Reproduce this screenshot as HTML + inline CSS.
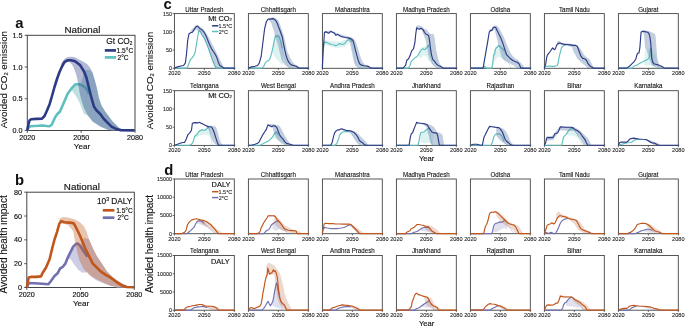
<!DOCTYPE html>
<html><head><meta charset="utf-8"><style>
html,body{margin:0;padding:0;background:#fff;}
svg{display:block;font-family:"Liberation Sans",sans-serif;will-change:transform;}
</style></head><body>
<svg width="685" height="326" viewBox="0 0 685 326">
<rect width="685" height="326" fill="#fff"/>
<rect x="27.30" y="35.30" width="107.70" height="95.20" fill="none" stroke="#444444" stroke-width="1.0"/>
<polygon points="71.30,89.00 75.00,85.00 78.00,84.00 81.00,84.00 83.00,76.00 85.00,70.50 88.00,69.50 90.50,70.50 92.50,72.60 94.50,78.90 96.80,87.70 98.90,97.70 101.40,105.20 105.20,111.50 109.00,116.50 112.70,121.60 116.50,125.30 119.00,127.80 124.00,130.00 124.00,130.30 112.00,130.30 107.70,129.80 100.20,126.60 92.60,121.60 87.60,115.30 83.90,114.00 80.10,104.00 76.00,96.00 72.60,91.40 71.30,90.20" fill="#bfe0e0" fill-opacity="1.0" stroke="none"/>
<polyline points="27.30,130.50 28.50,127.50 30.40,126.30 34.00,126.00 38.00,125.80 42.00,125.50 45.00,125.70 47.00,126.00 49.60,126.30 51.50,125.00 53.00,122.00 55.00,117.50 57.00,114.50 60.00,111.50 63.80,102.70 67.50,93.90 71.30,88.70 75.10,84.60 77.60,84.00 81.30,85.00 85.10,87.30 87.60,90.80 89.00,94.00" fill="none" stroke="#5ec0be" stroke-width="2.6" stroke-linejoin="round" stroke-linecap="butt"/>
<polygon points="61.00,64.00 63.00,60.50 65.00,58.50 68.00,56.90 72.00,56.70 75.00,57.30 78.80,59.50 83.00,61.50 87.00,64.00 90.00,67.50 92.50,72.60 94.50,78.90 96.80,87.70 98.90,97.70 101.40,105.20 105.20,111.50 109.00,116.50 112.70,121.60 116.50,125.30 119.00,127.80 124.00,130.00 128.00,130.30 112.00,130.30 107.70,129.80 100.20,126.60 92.60,121.60 87.60,115.30 83.90,107.70 82.00,102.00 80.50,97.00 79.50,92.00 78.50,86.00 77.50,80.00 76.00,74.00 74.00,68.50 72.00,64.50 70.00,62.50 68.00,61.50 65.00,62.50 62.00,66.00" fill="#2d3a86" fill-opacity="0.36" stroke="none"/>
<polyline points="27.30,130.50 28.30,125.00 29.50,120.50 31.00,119.30 36.00,118.90 42.00,118.60 44.50,116.00 47.00,110.50 49.60,104.20 52.00,96.00 54.50,87.00 57.00,79.00 59.40,72.20 62.00,66.50 64.30,62.40 66.50,60.80 68.60,60.20 71.00,60.30 75.10,61.30 78.00,63.50 80.10,65.10 83.90,71.30 86.40,77.60 88.90,87.70 91.40,97.70 93.90,106.50 96.40,110.30 100.20,114.00 103.90,119.00 107.70,122.80 111.50,126.60 116.50,129.10 120.00,130.10 134.50,130.40" fill="none" stroke="#2d3a86" stroke-width="2.6" stroke-linejoin="round" stroke-linecap="butt"/>
<line x1="24.70" y1="130.50" x2="27.30" y2="130.50" stroke="#444444" stroke-width="0.9"/>
<text x="22.40" y="133.00" font-size="7.2" text-anchor="end" font-weight="normal" fill="#111" stroke="#111" stroke-width="0.15" >0.0</text>
<line x1="24.70" y1="98.77" x2="27.30" y2="98.77" stroke="#444444" stroke-width="0.9"/>
<text x="22.40" y="101.27" font-size="7.2" text-anchor="end" font-weight="normal" fill="#111" stroke="#111" stroke-width="0.15" >0.5</text>
<line x1="24.70" y1="67.03" x2="27.30" y2="67.03" stroke="#444444" stroke-width="0.9"/>
<text x="22.40" y="69.53" font-size="7.2" text-anchor="end" font-weight="normal" fill="#111" stroke="#111" stroke-width="0.15" >1.0</text>
<line x1="24.70" y1="35.30" x2="27.30" y2="35.30" stroke="#444444" stroke-width="0.9"/>
<text x="22.40" y="37.80" font-size="7.2" text-anchor="end" font-weight="normal" fill="#111" stroke="#111" stroke-width="0.15" >1.5</text>
<line x1="27.30" y1="130.50" x2="27.30" y2="132.90" stroke="#444444" stroke-width="0.9"/>
<text x="27.30" y="139.70" font-size="7.2" text-anchor="middle" font-weight="normal" fill="#111" stroke="#111" stroke-width="0.15" >2020</text>
<line x1="81.15" y1="130.50" x2="81.15" y2="132.90" stroke="#444444" stroke-width="0.9"/>
<text x="81.15" y="139.70" font-size="7.2" text-anchor="middle" font-weight="normal" fill="#111" stroke="#111" stroke-width="0.15" >2050</text>
<line x1="135.00" y1="130.50" x2="135.00" y2="132.90" stroke="#444444" stroke-width="0.9"/>
<text x="135.00" y="139.70" font-size="7.2" text-anchor="middle" font-weight="normal" fill="#111" stroke="#111" stroke-width="0.15" >2080</text>
<text x="82.45" y="33.30" font-size="9.8" text-anchor="middle" font-weight="normal" fill="#111" stroke="#111" stroke-width="0.15" >National</text>
<rect x="26.80" y="192.20" width="107.50" height="95.30" fill="none" stroke="#444444" stroke-width="1.0"/>
<polygon points="66.70,259.00 68.00,257.10 70.60,251.90 73.20,246.70 75.80,244.10 77.90,243.60 79.80,245.40 84.00,238.00 88.90,238.90 92.80,248.00 96.70,255.80 101.90,263.60 107.10,271.40 113.60,277.90 121.40,283.10 129.20,287.00 129.20,287.50 117.50,287.50 109.70,285.80 103.20,283.20 96.70,280.60 91.50,276.70 87.60,272.00 86.30,272.50 82.40,272.70 78.50,270.00 74.50,265.00 70.60,259.00 66.70,259.50" fill="#cdcde5" fill-opacity="1.0" stroke="none"/>
<polyline points="26.80,287.50 27.80,285.00 28.70,283.00 34.80,283.30 42.20,283.80 48.40,284.30 50.80,281.30 54.50,276.00 57.60,273.30 60.20,268.30 62.80,266.80 65.40,263.60 68.00,257.10 70.60,251.90 73.20,246.70 75.80,244.10 77.90,243.60 79.80,245.40 82.40,249.30 85.00,253.20 87.60,256.60" fill="none" stroke="#7170b0" stroke-width="2.6" stroke-linejoin="round" stroke-linecap="butt"/>
<polygon points="59.40,218.60 63.10,216.90 68.00,217.50 74.50,219.30 79.70,221.90 83.60,225.80 86.30,231.00 88.90,238.90 92.80,248.00 96.70,255.80 101.90,263.60 107.10,271.40 113.60,277.90 121.40,283.10 129.20,287.00 132.00,287.30 120.00,287.30 111.00,285.70 103.20,282.60 95.40,278.70 88.90,274.80 83.60,268.80 79.70,261.00 77.10,251.90 74.50,238.90 73.20,231.00 68.00,225.00 63.00,223.50 59.40,224.00" fill="#c0561a" fill-opacity="0.35" stroke="none"/>
<polyline points="26.80,287.50 27.80,282.00 28.70,277.60 31.10,276.90 36.10,276.90 41.00,276.40 42.70,272.70 45.90,267.80 49.60,259.20 52.00,249.30 54.50,239.50 57.00,232.10 59.40,223.50 61.40,221.10 64.30,222.30 69.30,222.60 73.00,223.00 74.50,224.50 77.10,229.80 79.70,235.00 82.40,241.50 85.00,248.00 87.60,253.20 90.20,258.40 92.80,263.60 96.70,267.50 100.60,271.40 105.80,274.80 111.00,277.90 116.20,281.80 121.40,285.20 126.60,287.00 134.00,287.30" fill="none" stroke="#c0561a" stroke-width="2.6" stroke-linejoin="round" stroke-linecap="butt"/>
<line x1="24.20" y1="287.50" x2="26.80" y2="287.50" stroke="#444444" stroke-width="0.9"/>
<text x="21.90" y="290.00" font-size="7.2" text-anchor="end" font-weight="normal" fill="#111" stroke="#111" stroke-width="0.15" >0</text>
<line x1="24.20" y1="263.68" x2="26.80" y2="263.68" stroke="#444444" stroke-width="0.9"/>
<text x="21.90" y="266.18" font-size="7.2" text-anchor="end" font-weight="normal" fill="#111" stroke="#111" stroke-width="0.15" >20</text>
<line x1="24.20" y1="239.85" x2="26.80" y2="239.85" stroke="#444444" stroke-width="0.9"/>
<text x="21.90" y="242.35" font-size="7.2" text-anchor="end" font-weight="normal" fill="#111" stroke="#111" stroke-width="0.15" >40</text>
<line x1="24.20" y1="216.02" x2="26.80" y2="216.02" stroke="#444444" stroke-width="0.9"/>
<text x="21.90" y="218.52" font-size="7.2" text-anchor="end" font-weight="normal" fill="#111" stroke="#111" stroke-width="0.15" >60</text>
<line x1="24.20" y1="192.20" x2="26.80" y2="192.20" stroke="#444444" stroke-width="0.9"/>
<text x="21.90" y="194.70" font-size="7.2" text-anchor="end" font-weight="normal" fill="#111" stroke="#111" stroke-width="0.15" >80</text>
<line x1="26.80" y1="287.50" x2="26.80" y2="289.90" stroke="#444444" stroke-width="0.9"/>
<text x="26.80" y="296.70" font-size="7.2" text-anchor="middle" font-weight="normal" fill="#111" stroke="#111" stroke-width="0.15" >2020</text>
<line x1="80.55" y1="287.50" x2="80.55" y2="289.90" stroke="#444444" stroke-width="0.9"/>
<text x="80.55" y="296.70" font-size="7.2" text-anchor="middle" font-weight="normal" fill="#111" stroke="#111" stroke-width="0.15" >2050</text>
<line x1="134.30" y1="287.50" x2="134.30" y2="289.90" stroke="#444444" stroke-width="0.9"/>
<text x="134.30" y="296.70" font-size="7.2" text-anchor="middle" font-weight="normal" fill="#111" stroke="#111" stroke-width="0.15" >2080</text>
<text x="81.85" y="190.20" font-size="9.8" text-anchor="middle" font-weight="normal" fill="#111" stroke="#111" stroke-width="0.15" >National</text>
<text x="132.40" y="44.00" font-size="8.3" text-anchor="end" font-weight="normal" fill="#111" stroke="#111" stroke-width="0.15" >Gt CO<tspan font-size="4.6" dy="0.5">2</tspan></text>
<line x1="104.80" y1="50.40" x2="116.00" y2="50.40" stroke="#2d3a86" stroke-width="2.7"/>
<text x="116.60" y="52.70" font-size="6.6" text-anchor="start" font-weight="normal" fill="#111" stroke="#111" stroke-width="0.15" >1.5°C</text>
<line x1="104.80" y1="57.40" x2="116.00" y2="57.40" stroke="#5ec0be" stroke-width="2.7"/>
<text x="117.50" y="59.70" font-size="6.6" text-anchor="start" font-weight="normal" fill="#111" stroke="#111" stroke-width="0.15" >2°C</text>
<text x="132.40" y="203.60" font-size="8.3" text-anchor="end" font-weight="normal" fill="#111" stroke="#111" stroke-width="0.15" >10<tspan font-size="5.2" dy="-2.8">3</tspan><tspan dy="2.8"> DALY</tspan></text>
<line x1="102.80" y1="210.30" x2="114.40" y2="210.30" stroke="#c0561a" stroke-width="2.7"/>
<text x="116.20" y="212.60" font-size="6.6" text-anchor="start" font-weight="normal" fill="#111" stroke="#111" stroke-width="0.15" >1.5°C</text>
<line x1="102.80" y1="217.70" x2="114.40" y2="217.70" stroke="#7170b0" stroke-width="2.7"/>
<text x="117.60" y="220.00" font-size="6.6" text-anchor="start" font-weight="normal" fill="#111" stroke="#111" stroke-width="0.15" >2°C</text>
<text x="15.20" y="27.90" font-size="14.8" text-anchor="start" font-weight="bold" fill="#111" >a</text>
<text x="14.90" y="184.50" font-size="14.8" text-anchor="start" font-weight="bold" fill="#111" >b</text>
<text x="163.60" y="8.70" font-size="14.8" text-anchor="start" font-weight="bold" fill="#111" >c</text>
<text x="164.20" y="174.70" font-size="14.8" text-anchor="start" font-weight="bold" fill="#111" >d</text>
<text transform="translate(7.20,79.60) rotate(-90)" font-size="9.8" text-anchor="middle" fill="#111" stroke="#111" stroke-width="0.1">Avoided CO<tspan font-size="5.8" dy="1.0">2</tspan><tspan dy="-1.0"> emission</tspan></text>
<text transform="translate(7.20,244.40) rotate(-90)" font-size="10.0" text-anchor="middle" fill="#111" stroke="#111" stroke-width="0.1">Avoided health impact</text>
<text transform="translate(152.90,80.50) rotate(-90)" font-size="9.8" text-anchor="middle" fill="#111" stroke="#111" stroke-width="0.1">Avoided CO<tspan font-size="5.8" dy="1.0">2</tspan><tspan dy="-1.0"> emission</tspan></text>
<text transform="translate(153.00,244.00) rotate(-90)" font-size="10.0" text-anchor="middle" fill="#111" stroke="#111" stroke-width="0.1">Avoided health impact</text>
<text x="82.00" y="148.70" font-size="8.1" text-anchor="middle" font-weight="normal" fill="#111" stroke="#111" stroke-width="0.15" >Year</text>
<text x="81.10" y="305.60" font-size="8.1" text-anchor="middle" font-weight="normal" fill="#111" stroke="#111" stroke-width="0.15" >Year</text>
<text x="426.60" y="160.60" font-size="7.6" text-anchor="middle" font-weight="normal" fill="#111" stroke="#111" stroke-width="0.15" >Year</text>
<text x="426.60" y="325.70" font-size="7.6" text-anchor="middle" font-weight="normal" fill="#111" stroke="#111" stroke-width="0.15" >Year</text>
<rect x="174.40" y="13.60" width="59.90" height="54.70" fill="none" stroke="#444444" stroke-width="0.9"/>
<polyline points="174.35,68.15 184.49,68.15 187.11,68.15 188.86,63.70 190.61,59.33 192.36,57.58 194.10,54.96 195.33,51.46 196.38,44.47 197.60,37.48 198.48,32.23 199.35,30.48 200.22,31.36 201.10,33.10 201.97,34.85 203.72,37.48 205.47,40.97 207.22,45.34 208.97,49.71 210.71,54.96 212.46,60.20 214.21,64.57 215.96,68.15 217.71,68.15 235.19,68.15" fill="none" stroke="#5ec0be" stroke-width="1.15" stroke-linejoin="round" stroke-linecap="butt"/>
<polygon points="190.61,30.48 193.23,27.86 195.85,25.24 198.48,25.59 200.22,26.64 201.97,27.86 204.59,30.48 208.97,37.48 211.59,42.72 215.08,49.71 217.71,54.96 220.33,60.20 222.95,65.45 224.70,68.15 224.70,68.15 217.71,68.15 215.96,68.15 214.21,64.57 212.46,60.20 210.71,54.96 208.97,49.71 207.22,45.34 205.47,40.97 203.72,37.48 201.97,34.85 200.22,32.23 198.48,31.36 195.85,29.61 193.23,32.58 190.61,32.58" fill="#4d6f9f" fill-opacity="0.34" stroke="none"/>
<polyline points="174.35,68.15 177.50,66.85 180.99,65.97 183.62,65.45 185.36,62.83 186.59,53.21 187.64,40.97 188.86,33.98 190.61,32.76 192.36,32.23 194.10,29.61 195.85,26.99 197.08,26.11 198.48,26.99 199.87,28.73 201.62,29.61 203.37,31.36 205.12,33.98 206.34,36.60 208.09,40.97 209.84,45.34 211.59,48.84 213.34,51.46 215.08,54.08 216.83,57.58 218.58,62.83 219.80,65.45 221.20,66.32 223.83,68.15 226.45,68.15 235.19,68.15" fill="none" stroke="#2d3a86" stroke-width="1.15" stroke-linejoin="round" stroke-linecap="butt"/>
<line x1="172.60" y1="68.30" x2="174.40" y2="68.30" stroke="#444444" stroke-width="0.8"/>
<text x="172.00" y="70.20" font-size="5.4" text-anchor="end" font-weight="normal" fill="#111" stroke="#111" stroke-width="0.07" >0</text>
<line x1="172.60" y1="50.07" x2="174.40" y2="50.07" stroke="#444444" stroke-width="0.8"/>
<text x="172.00" y="51.97" font-size="5.4" text-anchor="end" font-weight="normal" fill="#111" stroke="#111" stroke-width="0.07" >50</text>
<line x1="172.60" y1="31.83" x2="174.40" y2="31.83" stroke="#444444" stroke-width="0.8"/>
<text x="172.00" y="33.73" font-size="5.4" text-anchor="end" font-weight="normal" fill="#111" stroke="#111" stroke-width="0.07" >100</text>
<line x1="172.60" y1="13.60" x2="174.40" y2="13.60" stroke="#444444" stroke-width="0.8"/>
<text x="172.00" y="15.50" font-size="5.4" text-anchor="end" font-weight="normal" fill="#111" stroke="#111" stroke-width="0.07" >150</text>
<line x1="174.40" y1="68.30" x2="174.40" y2="70.10" stroke="#444444" stroke-width="0.8"/>
<text x="174.40" y="75.10" font-size="5.6" text-anchor="middle" font-weight="normal" fill="#111" stroke="#111" stroke-width="0.07" >2020</text>
<line x1="204.35" y1="68.30" x2="204.35" y2="70.10" stroke="#444444" stroke-width="0.8"/>
<text x="204.35" y="75.10" font-size="5.6" text-anchor="middle" font-weight="normal" fill="#111" stroke="#111" stroke-width="0.07" >2050</text>
<line x1="234.30" y1="68.30" x2="234.30" y2="70.10" stroke="#444444" stroke-width="0.8"/>
<text x="234.30" y="75.10" font-size="5.6" text-anchor="middle" font-weight="normal" fill="#111" stroke="#111" stroke-width="0.07" >2080</text>
<text transform="translate(204.35,11.60) scale(1,1.14)" font-size="6.2" text-anchor="middle" fill="#111" stroke="#111" stroke-width="0.1">Uttar Pradesh</text>
<rect x="248.40" y="13.60" width="59.90" height="54.70" fill="none" stroke="#444444" stroke-width="0.9"/>
<polygon points="272.48,46.22 274.22,37.48 275.97,33.98 278.59,34.85 281.22,40.97 282.97,47.97 282.97,65.45 282.09,64.57 279.47,61.95 275.97,58.45 272.48,53.21" fill="#5ec0be" fill-opacity="0.2" stroke="none"/>
<polyline points="248.35,68.15 261.99,68.15 263.73,66.32 265.48,62.83 267.23,61.08 268.98,60.20 270.38,57.58 271.60,53.21 272.83,47.97 274.22,40.97 275.45,35.73 276.85,36.60 278.07,35.73 279.47,37.48 280.87,41.85 282.09,47.97" fill="none" stroke="#5ec0be" stroke-width="1.15" stroke-linejoin="round" stroke-linecap="butt"/>
<polyline points="282.09,47.97 283.84,54.96 285.59,60.20 287.34,64.57 289.96,68.15 293.45,68.15 309.19,68.15" fill="none" stroke="#5ec0be" stroke-width="1.0" stroke-linejoin="round" stroke-linecap="butt" stroke-opacity="0.3"/>
<polygon points="268.98,18.24 272.48,17.37 275.97,18.24 278.59,20.87 280.34,25.24 282.09,30.48 283.84,35.73 285.59,43.59 287.34,51.46 289.96,57.58 292.58,61.95 295.20,64.57 298.70,66.32 301.32,68.15 301.32,68.15 291.71,68.15 289.08,68.15 285.59,65.45 282.97,62.83 281.22,58.45 279.47,51.46 277.72,44.47 275.97,39.22 274.22,32.23 272.48,26.99 271.60,23.49 268.98,19.99" fill="#4d6f9f" fill-opacity="0.34" stroke="none"/>
<polyline points="248.35,68.15 251.50,66.85 254.99,66.32 257.62,65.45 259.36,62.83 261.11,56.71 262.86,42.72 264.61,28.73 266.36,21.74 268.10,19.12 270.73,19.12 272.48,18.59 274.22,19.12 275.97,20.87 277.37,23.49 278.59,26.99 279.99,30.48 281.22,33.98 282.44,37.48 283.49,43.59 284.71,49.71 285.94,54.96 287.34,59.33 288.56,61.95 289.96,63.70 291.71,65.10 294.33,65.80 296.08,66.32 298.70,68.15 300.45,68.15 309.19,68.15" fill="none" stroke="#2d3a86" stroke-width="1.15" stroke-linejoin="round" stroke-linecap="butt"/>
<line x1="248.40" y1="68.30" x2="248.40" y2="70.10" stroke="#444444" stroke-width="0.8"/>
<text x="248.40" y="75.10" font-size="5.6" text-anchor="middle" font-weight="normal" fill="#111" stroke="#111" stroke-width="0.07" >2020</text>
<line x1="278.35" y1="68.30" x2="278.35" y2="70.10" stroke="#444444" stroke-width="0.8"/>
<text x="278.35" y="75.10" font-size="5.6" text-anchor="middle" font-weight="normal" fill="#111" stroke="#111" stroke-width="0.07" >2050</text>
<line x1="308.30" y1="68.30" x2="308.30" y2="70.10" stroke="#444444" stroke-width="0.8"/>
<text x="308.30" y="75.10" font-size="5.6" text-anchor="middle" font-weight="normal" fill="#111" stroke="#111" stroke-width="0.07" >2080</text>
<text transform="translate(278.35,11.60) scale(1,1.14)" font-size="6.2" text-anchor="middle" fill="#111" stroke="#111" stroke-width="0.1">Chhattisgarh</text>
<rect x="322.40" y="13.60" width="59.90" height="54.70" fill="none" stroke="#444444" stroke-width="0.9"/>
<polygon points="324.45,40.10 332.49,40.97 339.48,41.85 346.48,39.22 349.97,38.35 352.59,39.22 352.59,43.59 349.97,41.85 344.73,47.09 337.73,47.97 332.49,47.09 324.45,44.47" fill="#5ec0be" fill-opacity="0.2" stroke="none"/>
<polyline points="323.40,47.97 324.45,41.85 326.37,42.37 328.99,43.59 331.62,44.47 334.24,44.99 335.99,45.87 337.73,44.82 339.48,43.59 341.23,44.12 342.98,44.47 344.73,43.59 346.48,40.97 348.22,40.10 349.97,38.87 350.85,39.22 351.72,41.85" fill="none" stroke="#5ec0be" stroke-width="1.15" stroke-linejoin="round" stroke-linecap="butt"/>
<polyline points="351.72,41.85 352.59,46.22 353.82,53.21 355.22,60.20 356.62,65.45 358.71,68.15 383.19,68.15" fill="none" stroke="#5ec0be" stroke-width="1.0" stroke-linejoin="round" stroke-linecap="butt" stroke-opacity="0.3"/>
<polygon points="324.45,31.36 330.74,30.48 339.48,33.98 348.22,36.60 351.72,37.48 354.34,39.22 356.09,42.72 357.84,47.97 359.59,54.08 361.34,59.33 363.08,62.83 365.71,65.10 369.20,66.32 372.70,68.15 372.70,68.15 358.71,68.15 356.09,66.32 354.34,63.70 353.12,58.45 351.72,51.46 349.97,43.59 348.22,39.22 339.48,36.08 330.74,32.23 324.45,32.58" fill="#4d6f9f" fill-opacity="0.34" stroke="none"/>
<polyline points="322.35,68.15 323.40,47.97 324.45,32.23 325.85,31.88 327.24,32.58 328.99,33.10 330.74,31.36 332.49,32.23 334.24,33.10 335.99,35.38 337.73,34.33 339.48,35.73 341.23,36.60 342.98,36.95 345.60,37.48 348.22,37.83 349.97,38.35 351.72,39.22 353.12,40.97 354.34,45.34 355.57,50.59 356.97,55.83 358.19,60.20 359.59,63.70 361.34,65.10 363.96,65.80 367.45,66.15 369.20,66.85 370.95,68.15 383.19,68.15" fill="none" stroke="#2d3a86" stroke-width="1.15" stroke-linejoin="round" stroke-linecap="butt"/>
<line x1="322.40" y1="68.30" x2="322.40" y2="70.10" stroke="#444444" stroke-width="0.8"/>
<text x="322.40" y="75.10" font-size="5.6" text-anchor="middle" font-weight="normal" fill="#111" stroke="#111" stroke-width="0.07" >2020</text>
<line x1="352.35" y1="68.30" x2="352.35" y2="70.10" stroke="#444444" stroke-width="0.8"/>
<text x="352.35" y="75.10" font-size="5.6" text-anchor="middle" font-weight="normal" fill="#111" stroke="#111" stroke-width="0.07" >2050</text>
<line x1="382.30" y1="68.30" x2="382.30" y2="70.10" stroke="#444444" stroke-width="0.8"/>
<text x="382.30" y="75.10" font-size="5.6" text-anchor="middle" font-weight="normal" fill="#111" stroke="#111" stroke-width="0.07" >2080</text>
<text transform="translate(352.35,11.60) scale(1,1.14)" font-size="6.2" text-anchor="middle" fill="#111" stroke="#111" stroke-width="0.1">Maharashtra</text>
<rect x="396.40" y="13.60" width="59.90" height="54.70" fill="none" stroke="#444444" stroke-width="0.9"/>
<polygon points="418.73,51.46 422.22,47.09 425.72,46.22 428.34,44.47 430.09,47.97 430.09,62.83 428.34,60.20 426.59,56.71 423.97,54.96 420.48,58.45 418.73,56.71" fill="#5ec0be" fill-opacity="0.2" stroke="none"/>
<polyline points="396.35,68.15 408.24,68.15 409.99,65.45 411.38,61.08 413.48,59.33 415.23,57.58 416.98,56.71 418.73,54.08 420.13,51.46 421.35,49.71 423.10,48.84 424.85,49.71 426.59,47.97 428.34,45.34 429.22,46.22" fill="none" stroke="#5ec0be" stroke-width="1.15" stroke-linejoin="round" stroke-linecap="butt"/>
<polyline points="429.22,46.22 430.09,53.21 430.97,58.45 432.71,63.70 434.46,66.32 437.08,68.15 457.19,68.15" fill="none" stroke="#5ec0be" stroke-width="1.0" stroke-linejoin="round" stroke-linecap="butt" stroke-opacity="0.3"/>
<polygon points="416.10,26.11 418.73,25.24 421.35,26.11 423.97,28.73 426.59,29.61 429.22,33.10 430.97,33.98 433.59,33.98 434.81,39.22 436.21,49.71 437.96,58.45 439.71,63.70 441.45,66.32 444.08,68.15 444.08,68.15 437.96,68.15 434.46,66.32 431.84,63.70 430.09,60.20 428.34,54.96 427.12,47.97 425.72,40.97 423.97,35.73 421.35,29.61 418.73,29.61 416.10,28.73" fill="#4d6f9f" fill-opacity="0.34" stroke="none"/>
<polyline points="396.35,68.15 402.99,68.15 405.62,65.45 406.84,60.20 408.59,58.80 409.99,55.83 411.73,50.59 413.48,48.84 414.88,42.72 415.76,33.98 416.63,27.86 417.85,28.73 419.60,29.08 421.35,28.38 423.10,29.61 424.50,32.23 425.72,33.98 427.47,34.85 428.69,35.73 429.57,40.97 430.44,47.97 431.49,54.96 432.71,59.33 434.46,61.08 436.21,63.70 437.96,65.45 440.58,66.32 443.20,68.15 446.70,68.15 457.19,68.15" fill="none" stroke="#2d3a86" stroke-width="1.15" stroke-linejoin="round" stroke-linecap="butt"/>
<line x1="396.40" y1="68.30" x2="396.40" y2="70.10" stroke="#444444" stroke-width="0.8"/>
<text x="396.40" y="75.10" font-size="5.6" text-anchor="middle" font-weight="normal" fill="#111" stroke="#111" stroke-width="0.07" >2020</text>
<line x1="426.35" y1="68.30" x2="426.35" y2="70.10" stroke="#444444" stroke-width="0.8"/>
<text x="426.35" y="75.10" font-size="5.6" text-anchor="middle" font-weight="normal" fill="#111" stroke="#111" stroke-width="0.07" >2050</text>
<line x1="456.30" y1="68.30" x2="456.30" y2="70.10" stroke="#444444" stroke-width="0.8"/>
<text x="456.30" y="75.10" font-size="5.6" text-anchor="middle" font-weight="normal" fill="#111" stroke="#111" stroke-width="0.07" >2080</text>
<text transform="translate(426.35,11.60) scale(1,1.14)" font-size="6.2" text-anchor="middle" fill="#111" stroke="#111" stroke-width="0.1">Madhya Pradesh</text>
<rect x="470.40" y="13.60" width="59.90" height="54.70" fill="none" stroke="#444444" stroke-width="0.9"/>
<polygon points="492.73,53.21 495.35,47.09 498.85,44.47 502.34,47.09 504.97,51.46 505.84,61.95 504.09,60.20 501.47,58.45 498.85,56.71 496.22,58.45 493.60,63.70" fill="#5ec0be" fill-opacity="0.2" stroke="none"/>
<polyline points="470.35,68.15 483.11,68.15 484.86,66.32 486.61,68.15 489.23,68.15 491.85,68.15 492.73,63.70 493.60,54.96 494.48,54.96 495.35,49.71 496.22,47.97 497.62,47.09 498.50,45.34 499.72,46.22 501.12,47.97 502.87,48.84 504.09,50.59" fill="none" stroke="#5ec0be" stroke-width="1.15" stroke-linejoin="round" stroke-linecap="butt"/>
<polyline points="504.09,50.59 505.84,54.96 507.59,60.20 509.34,64.57 511.08,68.15 512.83,68.15 531.19,68.15" fill="none" stroke="#5ec0be" stroke-width="1.0" stroke-linejoin="round" stroke-linecap="butt" stroke-opacity="0.3"/>
<polygon points="489.23,29.61 491.85,28.73 493.60,26.11 496.22,25.24 498.85,27.86 501.47,32.23 504.09,37.48 506.71,44.47 509.34,50.59 511.96,54.96 514.58,58.10 518.08,60.20 520.70,62.83 523.32,65.45 524.20,68.15 524.20,68.15 520.70,68.15 517.20,68.15 513.71,65.45 510.21,63.70 506.71,61.95 504.09,60.20 501.47,56.71 499.72,49.71 497.97,42.72 496.22,35.73 494.48,29.61 491.85,31.36 489.23,32.23" fill="#4d6f9f" fill-opacity="0.34" stroke="none"/>
<polyline points="470.35,68.15 476.12,68.15 480.49,68.15 483.11,68.15 483.99,62.83 485.38,54.96 486.61,47.97 487.83,40.97 489.23,32.23 490.63,30.48 491.85,30.48 493.08,27.86 494.48,26.99 495.87,27.86 497.10,30.48 498.85,33.98 500.59,37.48 502.34,41.85 504.09,47.09 505.49,51.46 506.71,54.96 508.46,56.71 510.56,58.80 512.83,60.55 515.10,61.60 517.20,62.30 518.95,63.70 519.83,65.45 520.70,68.15 531.19,68.15" fill="none" stroke="#2d3a86" stroke-width="1.15" stroke-linejoin="round" stroke-linecap="butt"/>
<line x1="470.40" y1="68.30" x2="470.40" y2="70.10" stroke="#444444" stroke-width="0.8"/>
<text x="470.40" y="75.10" font-size="5.6" text-anchor="middle" font-weight="normal" fill="#111" stroke="#111" stroke-width="0.07" >2020</text>
<line x1="500.35" y1="68.30" x2="500.35" y2="70.10" stroke="#444444" stroke-width="0.8"/>
<text x="500.35" y="75.10" font-size="5.6" text-anchor="middle" font-weight="normal" fill="#111" stroke="#111" stroke-width="0.07" >2050</text>
<line x1="530.30" y1="68.30" x2="530.30" y2="70.10" stroke="#444444" stroke-width="0.8"/>
<text x="530.30" y="75.10" font-size="5.6" text-anchor="middle" font-weight="normal" fill="#111" stroke="#111" stroke-width="0.07" >2080</text>
<text transform="translate(500.35,11.60) scale(1,1.14)" font-size="6.2" text-anchor="middle" fill="#111" stroke="#111" stroke-width="0.1">Odisha</text>
<rect x="544.40" y="13.60" width="59.90" height="54.70" fill="none" stroke="#444444" stroke-width="0.9"/>
<polyline points="544.35,68.15 545.75,65.97 547.50,66.32 549.24,65.97 551.87,66.32 554.49,66.32 557.11,65.45 557.99,63.70 558.86,58.45 560.08,53.21 561.48,47.97 562.88,46.22 564.63,45.34 565.85,44.82 566.73,44.47" fill="none" stroke="#5ec0be" stroke-width="1.15" stroke-linejoin="round" stroke-linecap="butt"/>
<polyline points="566.73,44.47 570.22,44.99 572.85,45.52" fill="none" stroke="#5ec0be" stroke-width="1.0" stroke-linejoin="round" stroke-linecap="butt" stroke-opacity="0.3"/>
<polygon points="557.11,41.85 558.86,40.62 561.48,42.72 571.97,44.12 576.34,45.34 578.97,47.09 581.59,50.59 584.21,54.96 586.83,57.58 589.45,59.33 591.20,62.83 592.95,66.32 595.57,68.15 595.57,68.15 591.20,68.15 587.71,68.15 585.08,65.45 581.59,62.83 578.97,60.20 577.22,58.45 575.47,54.96 573.72,52.34 571.97,47.09 561.48,44.47 557.11,44.47" fill="#4d6f9f" fill-opacity="0.34" stroke="none"/>
<polyline points="544.35,68.15 545.75,63.70 546.62,57.58 547.50,54.96 548.90,53.21 550.12,51.46 551.34,49.71 552.74,47.97 554.14,49.71 555.36,48.84 556.59,45.34 557.99,43.59 559.73,43.07 561.48,43.59 563.23,44.12 564.98,44.47 567.60,44.47 570.22,44.82 572.85,45.34 575.47,45.34 577.22,46.22 578.62,49.71 579.84,53.21 581.24,56.71 582.46,58.10 584.21,58.80 585.61,59.33 586.83,61.08 588.06,63.70 589.45,65.45 591.20,66.85 593.83,68.15 605.19,68.15" fill="none" stroke="#2d3a86" stroke-width="1.15" stroke-linejoin="round" stroke-linecap="butt"/>
<line x1="544.40" y1="68.30" x2="544.40" y2="70.10" stroke="#444444" stroke-width="0.8"/>
<text x="544.40" y="75.10" font-size="5.6" text-anchor="middle" font-weight="normal" fill="#111" stroke="#111" stroke-width="0.07" >2020</text>
<line x1="574.35" y1="68.30" x2="574.35" y2="70.10" stroke="#444444" stroke-width="0.8"/>
<text x="574.35" y="75.10" font-size="5.6" text-anchor="middle" font-weight="normal" fill="#111" stroke="#111" stroke-width="0.07" >2050</text>
<line x1="604.30" y1="68.30" x2="604.30" y2="70.10" stroke="#444444" stroke-width="0.8"/>
<text x="604.30" y="75.10" font-size="5.6" text-anchor="middle" font-weight="normal" fill="#111" stroke="#111" stroke-width="0.07" >2080</text>
<text transform="translate(574.35,11.60) scale(1,1.14)" font-size="6.2" text-anchor="middle" fill="#111" stroke="#111" stroke-width="0.1">Tamil Nadu</text>
<rect x="618.40" y="13.60" width="59.90" height="54.70" fill="none" stroke="#444444" stroke-width="0.9"/>
<polygon points="644.22,60.20 645.10,50.59 647.72,48.84 650.34,47.97 652.97,50.59 655.59,54.96 657.34,61.95 657.34,65.45 654.71,66.32 651.22,65.45 647.72,65.45 644.22,65.45" fill="#5ec0be" fill-opacity="0.2" stroke="none"/>
<polyline points="618.35,68.15 631.99,68.15 633.73,66.32 635.48,65.45 637.23,65.10 638.98,63.70 640.73,62.83 642.48,61.95 644.22,61.08 645.97,60.20 647.72,59.33 649.12,57.58 649.99,54.96 650.34,50.59 650.87,47.97" fill="none" stroke="#5ec0be" stroke-width="1.15" stroke-linejoin="round" stroke-linecap="butt"/>
<polyline points="650.87,47.97 651.57,53.21 652.27,60.20 652.97,64.57 654.71,68.15 657.34,68.15 679.19,68.15" fill="none" stroke="#5ec0be" stroke-width="1.0" stroke-linejoin="round" stroke-linecap="butt" stroke-opacity="0.3"/>
<polygon points="641.60,30.83 645.97,30.48 649.47,31.36 652.97,33.10 655.06,33.98 655.76,37.48 656.46,47.97 657.34,58.45 658.56,62.83 660.83,65.45 664.33,68.15 668.70,68.15 668.70,68.15 663.45,68.15 658.21,68.15 653.84,66.32 651.22,64.57 649.82,60.20 648.59,56.71 646.85,50.59 645.10,47.97 644.57,40.97 643.87,33.98 641.60,31.88" fill="#4d6f9f" fill-opacity="0.34" stroke="none"/>
<polyline points="618.35,68.15 623.24,68.15 626.74,68.15 629.36,66.32 631.11,64.57 632.86,62.83 634.61,61.08 636.01,58.45 636.88,54.96 637.58,53.21 638.98,52.86 639.85,47.97 640.38,40.97 641.08,32.23 642.13,31.36 644.22,31.36 645.97,31.88 647.72,32.23 649.12,33.98 649.99,37.48 650.69,42.72 651.22,49.71 651.74,58.45 652.62,61.95 653.84,63.70 655.59,64.22 657.34,64.57 659.08,65.45 661.71,66.32 664.33,68.15 666.95,68.15 670.45,68.15 679.19,68.15" fill="none" stroke="#2d3a86" stroke-width="1.15" stroke-linejoin="round" stroke-linecap="butt"/>
<line x1="618.40" y1="68.30" x2="618.40" y2="70.10" stroke="#444444" stroke-width="0.8"/>
<text x="618.40" y="75.10" font-size="5.6" text-anchor="middle" font-weight="normal" fill="#111" stroke="#111" stroke-width="0.07" >2020</text>
<line x1="648.35" y1="68.30" x2="648.35" y2="70.10" stroke="#444444" stroke-width="0.8"/>
<text x="648.35" y="75.10" font-size="5.6" text-anchor="middle" font-weight="normal" fill="#111" stroke="#111" stroke-width="0.07" >2050</text>
<line x1="678.30" y1="68.30" x2="678.30" y2="70.10" stroke="#444444" stroke-width="0.8"/>
<text x="678.30" y="75.10" font-size="5.6" text-anchor="middle" font-weight="normal" fill="#111" stroke="#111" stroke-width="0.07" >2080</text>
<text transform="translate(648.35,11.60) scale(1,1.14)" font-size="6.2" text-anchor="middle" fill="#111" stroke="#111" stroke-width="0.1">Gujarat</text>
<rect x="174.40" y="90.70" width="59.90" height="54.70" fill="none" stroke="#444444" stroke-width="0.9"/>
<polygon points="194.98,134.58 200.22,129.34 205.47,128.81 208.97,125.84 210.71,130.21 210.71,138.95 208.97,135.45 205.47,134.58 200.22,135.45 194.98,138.08" fill="#5ec0be" fill-opacity="0.2" stroke="none"/>
<polyline points="174.35,145.25 187.99,145.25 189.73,145.25 191.48,144.20 193.23,141.57 194.63,136.33 195.85,135.45 197.08,134.58 198.48,131.96 200.22,130.56 201.97,129.86 203.72,130.21 205.12,130.21 206.34,129.34 207.22,128.46 208.09,126.71 208.97,127.59" fill="none" stroke="#5ec0be" stroke-width="1.15" stroke-linejoin="round" stroke-linecap="butt"/>
<polyline points="208.97,127.59 210.71,135.45 211.59,142.45 212.46,145.25 235.19,145.25" fill="none" stroke="#5ec0be" stroke-width="1.0" stroke-linejoin="round" stroke-linecap="butt" stroke-opacity="0.3"/>
<polygon points="206.34,124.97 208.97,125.84 212.46,125.84 215.96,126.71 217.71,131.96 219.45,138.95 221.20,143.32 222.95,145.25 222.95,145.25 216.83,145.25 214.21,143.32 212.46,140.70 210.71,135.45 208.97,130.21 206.34,126.71" fill="#4d6f9f" fill-opacity="0.34" stroke="none"/>
<polyline points="174.35,145.25 177.50,144.20 180.12,143.32 182.74,142.45 184.49,142.45 186.24,138.95 187.99,134.58 189.73,132.83 191.48,130.21 192.36,123.22 193.58,122.87 195.85,122.69 198.48,122.87 199.35,122.34 201.10,123.22 202.85,124.09 204.59,124.97 206.34,125.84 208.09,126.71 209.84,126.71 211.59,127.06 213.34,130.21 214.56,133.71 215.96,138.08 217.36,142.45 218.58,145.25 221.20,145.25 235.19,145.25" fill="none" stroke="#2d3a86" stroke-width="1.15" stroke-linejoin="round" stroke-linecap="butt"/>
<line x1="172.60" y1="145.40" x2="174.40" y2="145.40" stroke="#444444" stroke-width="0.8"/>
<text x="172.00" y="147.30" font-size="5.4" text-anchor="end" font-weight="normal" fill="#111" stroke="#111" stroke-width="0.07" >0</text>
<line x1="172.60" y1="127.17" x2="174.40" y2="127.17" stroke="#444444" stroke-width="0.8"/>
<text x="172.00" y="129.07" font-size="5.4" text-anchor="end" font-weight="normal" fill="#111" stroke="#111" stroke-width="0.07" >50</text>
<line x1="172.60" y1="108.93" x2="174.40" y2="108.93" stroke="#444444" stroke-width="0.8"/>
<text x="172.00" y="110.83" font-size="5.4" text-anchor="end" font-weight="normal" fill="#111" stroke="#111" stroke-width="0.07" >100</text>
<line x1="172.60" y1="90.70" x2="174.40" y2="90.70" stroke="#444444" stroke-width="0.8"/>
<text x="172.00" y="92.60" font-size="5.4" text-anchor="end" font-weight="normal" fill="#111" stroke="#111" stroke-width="0.07" >150</text>
<line x1="174.40" y1="145.40" x2="174.40" y2="147.20" stroke="#444444" stroke-width="0.8"/>
<text x="174.40" y="152.20" font-size="5.6" text-anchor="middle" font-weight="normal" fill="#111" stroke="#111" stroke-width="0.07" >2020</text>
<line x1="204.35" y1="145.40" x2="204.35" y2="147.20" stroke="#444444" stroke-width="0.8"/>
<text x="204.35" y="152.20" font-size="5.6" text-anchor="middle" font-weight="normal" fill="#111" stroke="#111" stroke-width="0.07" >2050</text>
<line x1="234.30" y1="145.40" x2="234.30" y2="147.20" stroke="#444444" stroke-width="0.8"/>
<text x="234.30" y="152.20" font-size="5.6" text-anchor="middle" font-weight="normal" fill="#111" stroke="#111" stroke-width="0.07" >2080</text>
<text transform="translate(204.35,87.80) scale(1,1.14)" font-size="6.2" text-anchor="middle" fill="#111" stroke="#111" stroke-width="0.1">Telangana</text>
<rect x="248.40" y="90.70" width="59.90" height="54.70" fill="none" stroke="#444444" stroke-width="0.9"/>
<polygon points="273.35,133.71 275.10,131.08 276.85,131.61 279.47,134.58 282.09,138.08 282.97,142.45 279.47,140.70 275.97,138.95 273.35,138.08" fill="#5ec0be" fill-opacity="0.2" stroke="none"/>
<polyline points="248.35,145.25 260.24,145.25 261.99,144.20 263.73,143.32 265.48,142.45 267.23,141.57 268.98,140.70 270.73,138.95 272.48,137.20 273.87,134.58 275.10,132.83 276.32,131.96 277.72,134.58" fill="none" stroke="#5ec0be" stroke-width="1.15" stroke-linejoin="round" stroke-linecap="butt"/>
<polyline points="277.72,134.58 279.47,137.20 281.22,138.95 282.97,140.70 284.71,143.32 286.46,145.25 309.19,145.25" fill="none" stroke="#5ec0be" stroke-width="1.0" stroke-linejoin="round" stroke-linecap="butt" stroke-opacity="0.3"/>
<polygon points="267.23,124.09 272.48,124.09 275.97,124.97 279.47,125.84 282.09,130.21 284.71,135.45 287.34,139.83 289.96,143.32 292.58,145.25 292.58,145.25 286.46,145.25 282.97,144.20 280.34,142.45 277.72,139.83 275.97,137.20 274.22,133.71 272.48,127.59 267.23,125.84" fill="#4d6f9f" fill-opacity="0.34" stroke="none"/>
<polyline points="248.35,145.25 251.50,145.25 254.99,144.20 257.62,143.32 259.36,141.57 261.11,138.08 262.86,134.58 264.61,131.96 266.36,129.34 267.23,126.71 268.10,124.97 269.85,125.84 271.60,126.71 273.35,125.84 275.10,125.84 276.85,127.59 278.07,131.08 279.47,134.58 281.22,137.20 282.97,138.95 284.71,141.57 286.46,143.32 289.96,144.20 293.45,145.25 296.95,145.25 309.19,145.25" fill="none" stroke="#2d3a86" stroke-width="1.15" stroke-linejoin="round" stroke-linecap="butt"/>
<line x1="248.40" y1="145.40" x2="248.40" y2="147.20" stroke="#444444" stroke-width="0.8"/>
<text x="248.40" y="152.20" font-size="5.6" text-anchor="middle" font-weight="normal" fill="#111" stroke="#111" stroke-width="0.07" >2020</text>
<line x1="278.35" y1="145.40" x2="278.35" y2="147.20" stroke="#444444" stroke-width="0.8"/>
<text x="278.35" y="152.20" font-size="5.6" text-anchor="middle" font-weight="normal" fill="#111" stroke="#111" stroke-width="0.07" >2050</text>
<line x1="308.30" y1="145.40" x2="308.30" y2="147.20" stroke="#444444" stroke-width="0.8"/>
<text x="308.30" y="152.20" font-size="5.6" text-anchor="middle" font-weight="normal" fill="#111" stroke="#111" stroke-width="0.07" >2080</text>
<text transform="translate(278.35,87.80) scale(1,1.14)" font-size="6.2" text-anchor="middle" fill="#111" stroke="#111" stroke-width="0.1">West Bengal</text>
<rect x="322.40" y="90.70" width="59.90" height="54.70" fill="none" stroke="#444444" stroke-width="0.9"/>
<polyline points="322.35,145.25 332.49,145.25 335.11,145.25 336.86,143.32 338.61,138.95 339.48,135.45 340.88,133.36 342.63,131.96 344.73,131.61 346.48,131.61 348.22,131.61 349.97,131.96" fill="none" stroke="#5ec0be" stroke-width="1.15" stroke-linejoin="round" stroke-linecap="butt"/>
<polyline points="349.97,131.96 351.72,133.71 353.47,136.33 355.22,138.95 356.97,141.57 358.71,144.20 360.46,145.25 383.19,145.25" fill="none" stroke="#5ec0be" stroke-width="1.0" stroke-linejoin="round" stroke-linecap="butt" stroke-opacity="0.3"/>
<polygon points="349.97,130.56 353.47,131.08 356.09,131.96 358.71,134.58 361.34,137.20 363.96,139.83 366.58,142.45 368.33,145.25 368.33,145.25 361.34,145.25 358.71,144.20 356.09,141.57 354.34,138.95 352.59,136.33 350.85,133.71 349.97,131.96" fill="#4d6f9f" fill-opacity="0.34" stroke="none"/>
<polyline points="322.35,145.25 327.24,145.25 330.74,145.25 332.14,142.45 333.36,137.20 334.59,132.83 335.99,131.08 337.73,129.86 339.48,129.86 341.23,128.81 342.98,129.34 344.73,129.86 346.48,130.56 349.10,130.56 350.85,131.08 352.59,131.61 354.34,132.83 356.09,134.58 357.84,137.20 359.06,139.83 360.46,141.57 362.21,142.45 363.96,144.20 365.71,145.25 383.19,145.25" fill="none" stroke="#2d3a86" stroke-width="1.15" stroke-linejoin="round" stroke-linecap="butt"/>
<line x1="322.40" y1="145.40" x2="322.40" y2="147.20" stroke="#444444" stroke-width="0.8"/>
<text x="322.40" y="152.20" font-size="5.6" text-anchor="middle" font-weight="normal" fill="#111" stroke="#111" stroke-width="0.07" >2020</text>
<line x1="352.35" y1="145.40" x2="352.35" y2="147.20" stroke="#444444" stroke-width="0.8"/>
<text x="352.35" y="152.20" font-size="5.6" text-anchor="middle" font-weight="normal" fill="#111" stroke="#111" stroke-width="0.07" >2050</text>
<line x1="382.30" y1="145.40" x2="382.30" y2="147.20" stroke="#444444" stroke-width="0.8"/>
<text x="382.30" y="152.20" font-size="5.6" text-anchor="middle" font-weight="normal" fill="#111" stroke="#111" stroke-width="0.07" >2080</text>
<text transform="translate(352.35,87.80) scale(1,1.14)" font-size="6.2" text-anchor="middle" fill="#111" stroke="#111" stroke-width="0.1">Andhra Pradesh</text>
<rect x="396.40" y="90.70" width="59.90" height="54.70" fill="none" stroke="#444444" stroke-width="0.9"/>
<polygon points="420.48,132.83 423.97,131.08 428.34,127.59 430.97,130.21 433.59,135.45 432.71,144.20 429.22,142.45 424.85,143.32 420.48,142.45" fill="#5ec0be" fill-opacity="0.2" stroke="none"/>
<polyline points="396.35,145.25 409.99,145.25 412.61,145.25 415.23,145.25 417.85,145.25 418.73,142.45 419.25,139.83 419.95,135.45 420.83,132.83 422.22,132.31 423.97,131.96 425.72,130.21 427.12,129.34 428.34,128.46 429.22,129.34" fill="none" stroke="#5ec0be" stroke-width="1.15" stroke-linejoin="round" stroke-linecap="butt"/>
<polyline points="429.22,129.34 430.09,135.45 430.97,140.70 431.84,144.20 433.59,145.25 457.19,145.25" fill="none" stroke="#5ec0be" stroke-width="1.0" stroke-linejoin="round" stroke-linecap="butt" stroke-opacity="0.3"/>
<polygon points="423.97,124.09 427.47,124.09 430.97,124.97 433.59,126.71 435.34,129.34 437.08,131.96 439.71,132.83 442.33,134.58 443.20,138.95 444.08,145.25 444.08,145.25 431.84,145.25 430.09,142.45 429.22,137.20 427.47,131.96 426.59,127.59 423.97,124.97" fill="#4d6f9f" fill-opacity="0.34" stroke="none"/>
<polyline points="396.35,145.25 406.49,145.25 409.11,145.25 409.64,141.57 410.34,137.20 411.38,133.71 412.61,132.83 413.48,130.21 415.23,125.84 416.63,122.34 417.85,122.87 420.48,123.22 423.10,123.57 425.72,124.09 427.47,124.97 428.34,126.71 430.09,129.34 431.84,131.96 433.59,132.83 435.86,132.83 437.08,133.71 437.96,137.20 438.83,142.45 439.36,145.25 457.19,145.25" fill="none" stroke="#2d3a86" stroke-width="1.15" stroke-linejoin="round" stroke-linecap="butt"/>
<line x1="396.40" y1="145.40" x2="396.40" y2="147.20" stroke="#444444" stroke-width="0.8"/>
<text x="396.40" y="152.20" font-size="5.6" text-anchor="middle" font-weight="normal" fill="#111" stroke="#111" stroke-width="0.07" >2020</text>
<line x1="426.35" y1="145.40" x2="426.35" y2="147.20" stroke="#444444" stroke-width="0.8"/>
<text x="426.35" y="152.20" font-size="5.6" text-anchor="middle" font-weight="normal" fill="#111" stroke="#111" stroke-width="0.07" >2050</text>
<line x1="456.30" y1="145.40" x2="456.30" y2="147.20" stroke="#444444" stroke-width="0.8"/>
<text x="456.30" y="152.20" font-size="5.6" text-anchor="middle" font-weight="normal" fill="#111" stroke="#111" stroke-width="0.07" >2080</text>
<text transform="translate(426.35,87.80) scale(1,1.14)" font-size="6.2" text-anchor="middle" fill="#111" stroke="#111" stroke-width="0.1">Jharkhand</text>
<rect x="470.40" y="90.70" width="59.90" height="54.70" fill="none" stroke="#444444" stroke-width="0.9"/>
<polyline points="470.35,145.25 483.99,145.25 487.48,145.25 490.98,145.25 492.73,141.57 493.60,137.20 494.83,135.10 496.22,134.06 497.97,133.71 499.72,134.06 501.47,135.45 502.87,138.08 504.09,141.57" fill="none" stroke="#5ec0be" stroke-width="1.15" stroke-linejoin="round" stroke-linecap="butt"/>
<polyline points="504.09,141.57 505.84,144.20 508.46,145.25 531.19,145.25" fill="none" stroke="#5ec0be" stroke-width="1.0" stroke-linejoin="round" stroke-linecap="butt" stroke-opacity="0.3"/>
<polygon points="496.22,128.46 500.59,127.59 504.09,129.34 506.71,132.83 508.46,136.33 510.21,140.70 511.96,143.32 514.58,145.25 514.58,145.25 510.21,145.25 506.71,145.25 504.09,143.32 501.47,141.57 498.85,138.95 496.22,135.45" fill="#4d6f9f" fill-opacity="0.34" stroke="none"/>
<polyline points="470.35,145.25 473.50,144.20 476.99,144.20 480.49,145.25 482.24,145.25 483.11,141.57 483.99,137.20 485.38,134.58 486.61,131.96 488.36,128.46 489.58,126.36 491.85,126.71 494.48,127.06 497.10,127.59 498.85,127.59 500.59,129.34 502.34,131.96 503.74,135.45 504.97,138.95 506.36,141.05 508.11,142.45 509.86,144.20 511.96,145.25 531.19,145.25" fill="none" stroke="#2d3a86" stroke-width="1.15" stroke-linejoin="round" stroke-linecap="butt"/>
<line x1="470.40" y1="145.40" x2="470.40" y2="147.20" stroke="#444444" stroke-width="0.8"/>
<text x="470.40" y="152.20" font-size="5.6" text-anchor="middle" font-weight="normal" fill="#111" stroke="#111" stroke-width="0.07" >2020</text>
<line x1="500.35" y1="145.40" x2="500.35" y2="147.20" stroke="#444444" stroke-width="0.8"/>
<text x="500.35" y="152.20" font-size="5.6" text-anchor="middle" font-weight="normal" fill="#111" stroke="#111" stroke-width="0.07" >2050</text>
<line x1="530.30" y1="145.40" x2="530.30" y2="147.20" stroke="#444444" stroke-width="0.8"/>
<text x="530.30" y="152.20" font-size="5.6" text-anchor="middle" font-weight="normal" fill="#111" stroke="#111" stroke-width="0.07" >2080</text>
<text transform="translate(500.35,87.80) scale(1,1.14)" font-size="6.2" text-anchor="middle" fill="#111" stroke="#111" stroke-width="0.1">Rajasthan</text>
<rect x="544.40" y="90.70" width="59.90" height="54.70" fill="none" stroke="#444444" stroke-width="0.9"/>
<polygon points="566.73,131.08 570.22,128.46 573.72,129.34 577.22,132.83 578.97,135.45 578.97,139.83 577.22,137.20 571.97,135.45 566.73,135.45" fill="#5ec0be" fill-opacity="0.2" stroke="none"/>
<polyline points="544.35,145.25 554.49,145.25 561.48,145.25 562.36,142.45 563.23,138.08 564.10,136.33 565.85,134.58 567.08,132.83 568.13,131.08 569.35,129.86 570.22,128.81 571.97,128.46 573.72,128.81" fill="none" stroke="#5ec0be" stroke-width="1.15" stroke-linejoin="round" stroke-linecap="butt"/>
<polyline points="573.72,128.81 575.47,131.08 577.22,134.58 578.97,138.08 580.71,141.57 582.46,144.20 584.21,145.25" fill="none" stroke="#5ec0be" stroke-width="1.0" stroke-linejoin="round" stroke-linecap="butt" stroke-opacity="0.3"/>
<polygon points="546.62,136.33 552.74,135.80 559.73,126.36 573.72,127.06 578.09,129.34 581.59,131.96 585.08,135.45 587.71,138.08 589.80,141.57 591.55,145.25 591.55,145.25 585.08,145.25 583.34,144.20 581.59,141.57 578.97,137.20 576.34,133.71 573.72,131.08 559.73,130.21 553.62,139.83 546.62,140.70" fill="#4d6f9f" fill-opacity="0.34" stroke="none"/>
<polyline points="544.35,145.25 545.75,142.45 546.62,138.08 547.85,137.55 550.12,137.55 552.74,137.55 553.62,136.33 554.84,133.71 556.59,133.36 557.64,132.83 558.86,130.56 560.08,127.59 560.61,126.71 563.23,127.06 565.85,127.24 568.48,127.24 571.10,127.24 572.85,127.59 574.07,128.81 575.47,129.86 577.22,130.56 578.97,131.96 580.71,133.71 582.11,135.80 583.86,138.08 585.08,139.83 586.31,142.45 587.71,145.25 605.19,145.25" fill="none" stroke="#2d3a86" stroke-width="1.15" stroke-linejoin="round" stroke-linecap="butt"/>
<line x1="544.40" y1="145.40" x2="544.40" y2="147.20" stroke="#444444" stroke-width="0.8"/>
<text x="544.40" y="152.20" font-size="5.6" text-anchor="middle" font-weight="normal" fill="#111" stroke="#111" stroke-width="0.07" >2020</text>
<line x1="574.35" y1="145.40" x2="574.35" y2="147.20" stroke="#444444" stroke-width="0.8"/>
<text x="574.35" y="152.20" font-size="5.6" text-anchor="middle" font-weight="normal" fill="#111" stroke="#111" stroke-width="0.07" >2050</text>
<line x1="604.30" y1="145.40" x2="604.30" y2="147.20" stroke="#444444" stroke-width="0.8"/>
<text x="604.30" y="152.20" font-size="5.6" text-anchor="middle" font-weight="normal" fill="#111" stroke="#111" stroke-width="0.07" >2080</text>
<text transform="translate(574.35,87.80) scale(1,1.14)" font-size="6.2" text-anchor="middle" fill="#111" stroke="#111" stroke-width="0.1">Bihar</text>
<rect x="618.40" y="90.70" width="59.90" height="54.70" fill="none" stroke="#444444" stroke-width="0.9"/>
<polyline points="618.35,145.25 621.50,144.20 624.99,143.32 627.62,142.80 630.24,142.45 631.99,142.10 633.38,140.70 634.61,139.83 637.23,139.48 640.73,139.48" fill="none" stroke="#5ec0be" stroke-width="1.15" stroke-linejoin="round" stroke-linecap="butt"/>
<polyline points="640.73,139.48 644.22,139.83 647.72,141.05 650.34,142.45 652.97,143.85 655.59,145.25" fill="none" stroke="#5ec0be" stroke-width="1.0" stroke-linejoin="round" stroke-linecap="butt" stroke-opacity="0.3"/>
<polygon points="645.97,138.95 651.22,140.70 654.71,142.10 658.21,143.32 660.83,145.25 660.83,145.25 656.46,145.25 652.97,144.20 647.72,141.57 645.97,139.83" fill="#4d6f9f" fill-opacity="0.34" stroke="none"/>
<polyline points="618.35,145.25 619.75,142.45 621.50,142.10 624.12,142.10 626.74,142.10 628.14,141.05 629.36,139.30 631.11,138.60 633.73,138.08 636.36,138.60 638.98,138.95 642.48,139.30 645.97,139.48 648.59,140.70 650.34,142.10 652.09,142.80 654.71,143.32 656.46,144.20 658.21,145.25 679.19,145.25" fill="none" stroke="#2d3a86" stroke-width="1.15" stroke-linejoin="round" stroke-linecap="butt"/>
<line x1="618.40" y1="145.40" x2="618.40" y2="147.20" stroke="#444444" stroke-width="0.8"/>
<text x="618.40" y="152.20" font-size="5.6" text-anchor="middle" font-weight="normal" fill="#111" stroke="#111" stroke-width="0.07" >2020</text>
<line x1="648.35" y1="145.40" x2="648.35" y2="147.20" stroke="#444444" stroke-width="0.8"/>
<text x="648.35" y="152.20" font-size="5.6" text-anchor="middle" font-weight="normal" fill="#111" stroke="#111" stroke-width="0.07" >2050</text>
<line x1="678.30" y1="145.40" x2="678.30" y2="147.20" stroke="#444444" stroke-width="0.8"/>
<text x="678.30" y="152.20" font-size="5.6" text-anchor="middle" font-weight="normal" fill="#111" stroke="#111" stroke-width="0.07" >2080</text>
<text transform="translate(648.35,87.80) scale(1,1.14)" font-size="6.2" text-anchor="middle" fill="#111" stroke="#111" stroke-width="0.1">Karnataka</text>
<rect x="174.40" y="179.00" width="59.90" height="54.70" fill="none" stroke="#444444" stroke-width="0.9"/>
<polygon points="196.73,221.03 200.22,220.16 203.72,221.91 206.34,224.00 206.34,227.15 203.72,225.75 200.22,224.53 196.73,223.65" fill="#7170b0" fill-opacity="0.22" stroke="none"/>
<polyline points="174.35,233.55 184.49,233.55 187.11,233.55 188.86,232.05 190.61,230.65 192.36,228.90 194.10,227.15 195.33,224.53 196.73,221.91 198.13,221.03 199.87,220.68 201.62,221.03 202.85,221.91 204.07,223.30" fill="none" stroke="#7170b0" stroke-width="1.15" stroke-linejoin="round" stroke-linecap="butt"/>
<polyline points="204.07,223.30 205.47,224.53 208.09,227.15 210.71,229.77 213.34,232.40 215.96,233.55" fill="none" stroke="#7170b0" stroke-width="1.0" stroke-linejoin="round" stroke-linecap="butt" stroke-opacity="0.3"/>
<polygon points="198.48,219.28 201.97,219.81 206.34,221.03 208.97,222.78 211.59,224.53 214.21,226.28 216.83,228.90 219.45,230.65 222.08,233.55 222.08,233.55 217.71,233.55 215.96,233.55 213.34,231.52 210.71,229.77 208.09,228.03 205.47,226.28 202.85,224.53 200.22,222.78 198.48,221.03" fill="#b86a4a" fill-opacity="0.26" stroke="none"/>
<polyline points="174.35,233.55 176.62,233.55 179.24,233.55 181.87,233.55 184.49,232.40 185.89,230.65 186.59,228.03 187.64,224.53 189.38,221.91 191.48,220.16 194.10,219.28 196.73,218.76 198.48,219.28 200.22,219.81 201.97,220.16 204.07,220.68 206.34,221.56 208.09,222.78 209.84,224.00 211.24,225.05 212.81,227.15 214.56,228.90 215.96,230.65 217.36,232.40 218.58,233.55 235.19,233.55" fill="none" stroke="#c0561a" stroke-width="1.15" stroke-linejoin="round" stroke-linecap="butt"/>
<line x1="172.60" y1="233.70" x2="174.40" y2="233.70" stroke="#444444" stroke-width="0.8"/>
<text x="172.00" y="235.60" font-size="5.4" text-anchor="end" font-weight="normal" fill="#111" stroke="#111" stroke-width="0.07" >0</text>
<line x1="172.60" y1="215.47" x2="174.40" y2="215.47" stroke="#444444" stroke-width="0.8"/>
<text x="172.00" y="217.37" font-size="5.4" text-anchor="end" font-weight="normal" fill="#111" stroke="#111" stroke-width="0.07" >5000</text>
<line x1="172.60" y1="197.23" x2="174.40" y2="197.23" stroke="#444444" stroke-width="0.8"/>
<text x="172.00" y="199.13" font-size="5.4" text-anchor="end" font-weight="normal" fill="#111" stroke="#111" stroke-width="0.07" >10000</text>
<line x1="172.60" y1="179.00" x2="174.40" y2="179.00" stroke="#444444" stroke-width="0.8"/>
<text x="172.00" y="180.90" font-size="5.4" text-anchor="end" font-weight="normal" fill="#111" stroke="#111" stroke-width="0.07" >15000</text>
<line x1="174.40" y1="233.70" x2="174.40" y2="235.50" stroke="#444444" stroke-width="0.8"/>
<text x="174.40" y="240.50" font-size="5.6" text-anchor="middle" font-weight="normal" fill="#111" stroke="#111" stroke-width="0.07" >2020</text>
<line x1="204.35" y1="233.70" x2="204.35" y2="235.50" stroke="#444444" stroke-width="0.8"/>
<text x="204.35" y="240.50" font-size="5.6" text-anchor="middle" font-weight="normal" fill="#111" stroke="#111" stroke-width="0.07" >2050</text>
<line x1="234.30" y1="233.70" x2="234.30" y2="235.50" stroke="#444444" stroke-width="0.8"/>
<text x="234.30" y="240.50" font-size="5.6" text-anchor="middle" font-weight="normal" fill="#111" stroke="#111" stroke-width="0.07" >2080</text>
<text transform="translate(204.35,177.25) scale(1,1.14)" font-size="6.2" text-anchor="middle" fill="#111" stroke="#111" stroke-width="0.1">Uttar Pradesh</text>
<rect x="248.40" y="179.00" width="59.90" height="54.70" fill="none" stroke="#444444" stroke-width="0.9"/>
<polygon points="272.48,224.00 275.97,221.56 277.72,221.03 281.22,224.00 284.71,228.03 286.46,230.65 286.46,231.52 282.97,230.65 279.47,228.90 275.97,230.65 272.48,228.90" fill="#7170b0" fill-opacity="0.22" stroke="none"/>
<polyline points="248.35,233.55 261.99,233.55 263.73,233.55 265.48,231.52 267.23,230.30 268.63,229.77 269.85,228.03 271.08,225.40 272.48,224.00 274.22,222.78 275.97,221.56 277.20,221.03 278.59,221.91" fill="none" stroke="#7170b0" stroke-width="1.15" stroke-linejoin="round" stroke-linecap="butt"/>
<polyline points="278.59,221.91 280.34,223.30 282.09,225.40 283.84,228.03 285.59,230.65 287.34,233.55 289.08,233.55" fill="none" stroke="#7170b0" stroke-width="1.0" stroke-linejoin="round" stroke-linecap="butt" stroke-opacity="0.3"/>
<polygon points="268.10,214.91 274.22,214.91 276.85,216.66 279.47,219.28 282.97,223.65 286.46,226.28 289.96,228.03 293.45,229.77 297.83,230.65 301.32,232.40 302.20,233.55 302.20,233.55 293.45,233.55 288.21,232.40 284.71,231.52 281.22,229.77 277.72,227.15 274.22,223.65 274.22,217.01 268.10,216.66" fill="#b86a4a" fill-opacity="0.26" stroke="none"/>
<polyline points="248.35,233.55 251.50,233.55 254.12,233.55 257.62,233.55 259.36,232.40 260.24,230.65 261.11,228.03 262.34,225.40 263.73,222.78 265.48,220.16 267.23,217.54 268.10,215.79 269.85,215.79 272.48,215.79 274.22,215.79 275.62,217.01 276.85,219.28 278.59,221.03 280.34,222.78 282.09,225.40 283.84,228.03 285.59,229.25 288.21,230.30 290.83,230.65 293.45,230.65 296.08,231.00 296.95,233.55 309.19,233.55" fill="none" stroke="#c0561a" stroke-width="1.15" stroke-linejoin="round" stroke-linecap="butt"/>
<line x1="248.40" y1="233.70" x2="248.40" y2="235.50" stroke="#444444" stroke-width="0.8"/>
<text x="248.40" y="240.50" font-size="5.6" text-anchor="middle" font-weight="normal" fill="#111" stroke="#111" stroke-width="0.07" >2020</text>
<line x1="278.35" y1="233.70" x2="278.35" y2="235.50" stroke="#444444" stroke-width="0.8"/>
<text x="278.35" y="240.50" font-size="5.6" text-anchor="middle" font-weight="normal" fill="#111" stroke="#111" stroke-width="0.07" >2050</text>
<line x1="308.30" y1="233.70" x2="308.30" y2="235.50" stroke="#444444" stroke-width="0.8"/>
<text x="308.30" y="240.50" font-size="5.6" text-anchor="middle" font-weight="normal" fill="#111" stroke="#111" stroke-width="0.07" >2080</text>
<text transform="translate(278.35,177.25) scale(1,1.14)" font-size="6.2" text-anchor="middle" fill="#111" stroke="#111" stroke-width="0.1">Chhattisgarh</text>
<rect x="322.40" y="179.00" width="59.90" height="54.70" fill="none" stroke="#444444" stroke-width="0.9"/>
<polyline points="323.40,228.90 324.62,227.50 327.24,228.03 330.74,228.55 334.24,228.55 337.73,228.55 341.23,228.03 343.85,227.50 345.60,226.80 347.35,225.75 349.10,225.05 350.32,225.05" fill="none" stroke="#7170b0" stroke-width="1.15" stroke-linejoin="round" stroke-linecap="butt"/>
<polyline points="350.32,225.05 352.07,226.80 353.82,228.90 356.09,231.00 358.71,233.55" fill="none" stroke="#7170b0" stroke-width="1.0" stroke-linejoin="round" stroke-linecap="butt" stroke-opacity="0.3"/>
<polygon points="349.97,224.00 353.47,225.05 356.97,227.50 360.46,230.30 363.08,232.40 364.83,233.55 364.83,233.55 359.59,233.55 357.84,233.55 355.22,230.65 352.59,228.03 349.97,225.05" fill="#b86a4a" fill-opacity="0.26" stroke="none"/>
<polyline points="322.35,233.55 323.40,228.90 324.10,224.00 325.50,223.30 328.99,223.65 332.49,223.65 335.99,224.00 339.48,224.00 342.98,224.18 346.48,224.18 349.10,224.18 350.85,224.53 352.59,226.28 354.34,228.03 356.09,229.77 357.84,231.52 359.59,233.55 361.34,233.55 363.96,233.55 383.19,233.55" fill="none" stroke="#c0561a" stroke-width="1.15" stroke-linejoin="round" stroke-linecap="butt"/>
<line x1="322.40" y1="233.70" x2="322.40" y2="235.50" stroke="#444444" stroke-width="0.8"/>
<text x="322.40" y="240.50" font-size="5.6" text-anchor="middle" font-weight="normal" fill="#111" stroke="#111" stroke-width="0.07" >2020</text>
<line x1="352.35" y1="233.70" x2="352.35" y2="235.50" stroke="#444444" stroke-width="0.8"/>
<text x="352.35" y="240.50" font-size="5.6" text-anchor="middle" font-weight="normal" fill="#111" stroke="#111" stroke-width="0.07" >2050</text>
<line x1="382.30" y1="233.70" x2="382.30" y2="235.50" stroke="#444444" stroke-width="0.8"/>
<text x="382.30" y="240.50" font-size="5.6" text-anchor="middle" font-weight="normal" fill="#111" stroke="#111" stroke-width="0.07" >2080</text>
<text transform="translate(352.35,177.25) scale(1,1.14)" font-size="6.2" text-anchor="middle" fill="#111" stroke="#111" stroke-width="0.1">Maharashtra</text>
<rect x="396.40" y="179.00" width="59.90" height="54.70" fill="none" stroke="#444444" stroke-width="0.9"/>
<polygon points="420.48,228.90 425.72,227.15 429.22,228.03 431.84,230.65 430.97,232.40 425.72,231.52 420.48,230.65" fill="#7170b0" fill-opacity="0.22" stroke="none"/>
<polyline points="396.35,233.55 408.24,233.55 409.99,233.55 411.73,233.55 413.48,232.40 415.23,232.05 416.98,231.52 418.38,230.65 419.60,229.77 420.83,228.90 422.22,228.03 423.97,227.50 425.72,227.50 427.47,227.50 428.87,228.03" fill="none" stroke="#7170b0" stroke-width="1.15" stroke-linejoin="round" stroke-linecap="butt"/>
<polyline points="428.87,228.03 430.09,229.77 431.84,231.52 433.59,233.55" fill="none" stroke="#7170b0" stroke-width="1.0" stroke-linejoin="round" stroke-linecap="butt" stroke-opacity="0.3"/>
<polygon points="423.97,225.05 427.47,225.40 430.97,225.75 433.59,227.15 436.21,228.90 438.83,231.52 440.58,233.55 440.58,233.55 436.21,233.55 432.71,233.55 429.22,231.52 425.72,229.77 423.97,226.28" fill="#b86a4a" fill-opacity="0.26" stroke="none"/>
<polyline points="396.35,233.55 402.99,233.55 405.62,233.55 406.84,232.05 408.24,231.52 409.99,230.65 410.86,228.90 412.61,228.03 414.36,227.15 416.10,225.40 416.98,224.53 418.73,224.53 421.35,225.05 423.62,225.40 424.85,226.28 426.59,226.28 428.34,226.80 429.57,228.03 430.97,229.77 431.84,231.00 433.59,232.05 436.21,233.55 439.71,233.55 443.20,233.55 457.19,233.55" fill="none" stroke="#c0561a" stroke-width="1.15" stroke-linejoin="round" stroke-linecap="butt"/>
<line x1="396.40" y1="233.70" x2="396.40" y2="235.50" stroke="#444444" stroke-width="0.8"/>
<text x="396.40" y="240.50" font-size="5.6" text-anchor="middle" font-weight="normal" fill="#111" stroke="#111" stroke-width="0.07" >2020</text>
<line x1="426.35" y1="233.70" x2="426.35" y2="235.50" stroke="#444444" stroke-width="0.8"/>
<text x="426.35" y="240.50" font-size="5.6" text-anchor="middle" font-weight="normal" fill="#111" stroke="#111" stroke-width="0.07" >2050</text>
<line x1="456.30" y1="233.70" x2="456.30" y2="235.50" stroke="#444444" stroke-width="0.8"/>
<text x="456.30" y="240.50" font-size="5.6" text-anchor="middle" font-weight="normal" fill="#111" stroke="#111" stroke-width="0.07" >2080</text>
<text transform="translate(426.35,177.25) scale(1,1.14)" font-size="6.2" text-anchor="middle" fill="#111" stroke="#111" stroke-width="0.1">Madhya Pradesh</text>
<rect x="470.40" y="179.00" width="59.90" height="54.70" fill="none" stroke="#444444" stroke-width="0.9"/>
<polygon points="493.60,228.90 496.22,223.30 499.72,221.56 504.09,220.16 506.71,222.78 507.59,229.77 504.97,228.03 501.47,228.90 497.97,231.52 493.60,232.40" fill="#7170b0" fill-opacity="0.22" stroke="none"/>
<polyline points="470.35,233.55 484.86,233.55 487.48,233.55 490.10,233.55 491.85,233.55 492.73,230.65 493.60,226.28 494.83,224.00 496.22,223.30 497.97,222.78 499.72,221.91 501.47,222.26 503.22,221.56 504.62,220.51" fill="none" stroke="#7170b0" stroke-width="1.15" stroke-linejoin="round" stroke-linecap="butt"/>
<polyline points="504.62,220.51 506.71,222.78 508.81,226.28 511.08,229.77 512.83,232.40 514.58,233.55" fill="none" stroke="#7170b0" stroke-width="1.0" stroke-linejoin="round" stroke-linecap="butt" stroke-opacity="0.3"/>
<polygon points="490.98,211.42 495.35,210.54 498.85,212.29 502.34,214.91 505.84,218.41 509.34,221.91 512.83,223.65 515.45,224.53 518.08,225.40 520.70,228.90 522.45,232.40 523.32,233.55 523.32,233.55 517.20,233.55 516.33,233.55 513.71,230.65 510.21,228.03 506.71,226.28 503.22,223.65 499.72,220.16 496.22,215.79 496.22,213.17 490.98,212.82" fill="#b86a4a" fill-opacity="0.26" stroke="none"/>
<polyline points="470.35,233.55 476.99,233.55 480.49,233.55 483.64,233.55 484.34,230.65 485.38,226.28 486.61,224.53 487.83,221.03 489.23,214.91 490.10,212.82 491.85,212.29 493.60,212.29 495.35,211.77 497.10,212.82 498.85,214.04 500.59,215.79 502.34,217.54 504.09,219.28 505.84,221.03 507.59,222.78 509.86,224.00 511.96,224.53 513.71,225.05 515.10,226.28 516.33,228.03 517.55,230.65 518.95,233.55 531.19,233.55" fill="none" stroke="#c0561a" stroke-width="1.15" stroke-linejoin="round" stroke-linecap="butt"/>
<line x1="470.40" y1="233.70" x2="470.40" y2="235.50" stroke="#444444" stroke-width="0.8"/>
<text x="470.40" y="240.50" font-size="5.6" text-anchor="middle" font-weight="normal" fill="#111" stroke="#111" stroke-width="0.07" >2020</text>
<line x1="500.35" y1="233.70" x2="500.35" y2="235.50" stroke="#444444" stroke-width="0.8"/>
<text x="500.35" y="240.50" font-size="5.6" text-anchor="middle" font-weight="normal" fill="#111" stroke="#111" stroke-width="0.07" >2050</text>
<line x1="530.30" y1="233.70" x2="530.30" y2="235.50" stroke="#444444" stroke-width="0.8"/>
<text x="530.30" y="240.50" font-size="5.6" text-anchor="middle" font-weight="normal" fill="#111" stroke="#111" stroke-width="0.07" >2080</text>
<text transform="translate(500.35,177.25) scale(1,1.14)" font-size="6.2" text-anchor="middle" fill="#111" stroke="#111" stroke-width="0.1">Odisha</text>
<rect x="544.40" y="179.00" width="59.90" height="54.70" fill="none" stroke="#444444" stroke-width="0.9"/>
<polyline points="544.35,233.55 545.75,232.40 548.37,233.55 550.99,232.40 553.62,233.55 555.36,233.55 557.11,230.65 558.34,228.03 559.73,224.53 561.13,221.91 562.88,220.16 564.63,219.28 566.38,218.76 567.60,218.41" fill="none" stroke="#7170b0" stroke-width="1.15" stroke-linejoin="round" stroke-linecap="butt"/>
<polyline points="567.60,218.41 570.22,219.28 572.85,220.16" fill="none" stroke="#7170b0" stroke-width="1.0" stroke-linejoin="round" stroke-linecap="butt" stroke-opacity="0.3"/>
<polygon points="556.24,213.17 558.86,211.42 561.48,214.04 568.48,216.66 574.59,218.76 578.09,220.16 580.71,222.78 582.46,225.40 585.08,228.90 588.58,230.65 592.08,232.40 595.57,233.55 595.57,233.55 587.71,233.55 584.21,233.55 580.71,231.52 578.09,229.77 576.34,227.15 574.59,224.53 571.97,221.91 568.48,219.28 559.73,217.54 556.24,219.28" fill="#b86a4a" fill-opacity="0.26" stroke="none"/>
<polyline points="544.35,233.55 545.75,229.77 547.15,225.40 548.37,224.53 550.12,224.00 551.87,222.78 553.62,224.00 554.84,223.30 556.24,220.16 557.64,217.54 559.38,215.79 560.61,215.79 562.36,216.31 564.10,216.66 565.85,217.01 567.60,218.06 569.35,218.76 571.97,219.28 574.59,219.81 576.34,220.51 577.22,221.91 578.62,224.53 579.84,227.15 581.06,228.90 582.81,229.77 584.56,230.65 586.83,231.52 589.45,232.40 591.20,233.55 594.70,233.55 605.19,233.55" fill="none" stroke="#c0561a" stroke-width="1.15" stroke-linejoin="round" stroke-linecap="butt"/>
<line x1="544.40" y1="233.70" x2="544.40" y2="235.50" stroke="#444444" stroke-width="0.8"/>
<text x="544.40" y="240.50" font-size="5.6" text-anchor="middle" font-weight="normal" fill="#111" stroke="#111" stroke-width="0.07" >2020</text>
<line x1="574.35" y1="233.70" x2="574.35" y2="235.50" stroke="#444444" stroke-width="0.8"/>
<text x="574.35" y="240.50" font-size="5.6" text-anchor="middle" font-weight="normal" fill="#111" stroke="#111" stroke-width="0.07" >2050</text>
<line x1="604.30" y1="233.70" x2="604.30" y2="235.50" stroke="#444444" stroke-width="0.8"/>
<text x="604.30" y="240.50" font-size="5.6" text-anchor="middle" font-weight="normal" fill="#111" stroke="#111" stroke-width="0.07" >2080</text>
<text transform="translate(574.35,177.25) scale(1,1.14)" font-size="6.2" text-anchor="middle" fill="#111" stroke="#111" stroke-width="0.1">Tamil Nadu</text>
<rect x="618.40" y="179.00" width="59.90" height="54.70" fill="none" stroke="#444444" stroke-width="0.9"/>
<polygon points="644.22,229.77 647.72,228.90 651.22,229.25 653.84,230.65 652.97,233.55 648.59,232.40 644.22,231.52" fill="#7170b0" fill-opacity="0.22" stroke="none"/>
<polyline points="618.35,233.55 630.24,233.55 632.86,233.55 635.48,233.55 638.10,232.40 639.85,231.52 641.60,230.65 643.35,230.30 645.10,229.77 646.85,229.25 648.59,229.25 650.34,229.77 652.09,230.30" fill="none" stroke="#7170b0" stroke-width="1.15" stroke-linejoin="round" stroke-linecap="butt"/>
<polyline points="652.09,230.30 653.84,231.52 655.59,233.55 657.34,233.55" fill="none" stroke="#7170b0" stroke-width="1.0" stroke-linejoin="round" stroke-linecap="butt" stroke-opacity="0.3"/>
<polygon points="645.97,223.30 649.47,224.00 652.97,226.28 655.59,228.03 658.21,229.77 660.83,231.52 664.33,233.55 668.70,233.55 668.70,233.55 658.21,233.55 654.71,232.40 651.22,230.65 647.72,228.03 645.97,224.53" fill="#b86a4a" fill-opacity="0.26" stroke="none"/>
<polyline points="618.35,233.55 624.99,233.55 627.62,233.55 630.24,232.40 632.86,230.65 634.61,228.90 636.36,226.28 637.23,224.53 638.98,224.00 641.60,223.30 644.22,223.30 645.97,223.65 647.72,224.53 649.47,225.75 651.22,227.50 652.97,229.25 654.71,230.65 656.46,231.52 659.08,232.05 661.71,233.55 665.20,233.55 668.70,233.55 679.19,233.55" fill="none" stroke="#c0561a" stroke-width="1.15" stroke-linejoin="round" stroke-linecap="butt"/>
<line x1="618.40" y1="233.70" x2="618.40" y2="235.50" stroke="#444444" stroke-width="0.8"/>
<text x="618.40" y="240.50" font-size="5.6" text-anchor="middle" font-weight="normal" fill="#111" stroke="#111" stroke-width="0.07" >2020</text>
<line x1="648.35" y1="233.70" x2="648.35" y2="235.50" stroke="#444444" stroke-width="0.8"/>
<text x="648.35" y="240.50" font-size="5.6" text-anchor="middle" font-weight="normal" fill="#111" stroke="#111" stroke-width="0.07" >2050</text>
<line x1="678.30" y1="233.70" x2="678.30" y2="235.50" stroke="#444444" stroke-width="0.8"/>
<text x="678.30" y="240.50" font-size="5.6" text-anchor="middle" font-weight="normal" fill="#111" stroke="#111" stroke-width="0.07" >2080</text>
<text transform="translate(648.35,177.25) scale(1,1.14)" font-size="6.2" text-anchor="middle" fill="#111" stroke="#111" stroke-width="0.1">Gujarat</text>
<rect x="174.40" y="255.50" width="59.90" height="54.70" fill="none" stroke="#444444" stroke-width="0.9"/>
<polyline points="174.35,310.05 187.99,310.05 190.61,310.05 193.23,308.32 194.98,307.45 196.73,307.10 198.48,306.92 200.22,306.75 201.97,306.57 203.72,306.57 205.47,307.10 207.22,307.45" fill="none" stroke="#7170b0" stroke-width="1.15" stroke-linejoin="round" stroke-linecap="butt"/>
<polyline points="207.22,307.45 209.84,308.32 212.46,310.05 215.08,310.05" fill="none" stroke="#7170b0" stroke-width="1.0" stroke-linejoin="round" stroke-linecap="butt" stroke-opacity="0.3"/>
<polygon points="201.97,304.48 208.97,305.70 214.21,306.22 217.71,307.10 219.45,308.32 221.20,310.05 221.20,310.05 216.83,310.05 214.21,310.05 208.97,308.32 203.72,307.10 201.97,305.70" fill="#b86a4a" fill-opacity="0.26" stroke="none"/>
<polyline points="174.35,310.05 177.50,310.05 180.99,310.05 183.62,310.05 185.36,308.32 187.11,307.10 188.86,306.57 190.61,306.22 192.36,305.70 194.98,305.35 197.60,304.83 199.35,304.48 201.10,304.48 202.85,304.83 204.59,305.70 206.34,306.05 208.97,306.22 211.59,306.22 213.34,306.57 215.08,307.10 216.83,308.32 217.71,310.05 219.45,310.05 235.19,310.05" fill="none" stroke="#c0561a" stroke-width="1.15" stroke-linejoin="round" stroke-linecap="butt"/>
<line x1="172.60" y1="310.20" x2="174.40" y2="310.20" stroke="#444444" stroke-width="0.8"/>
<text x="172.00" y="312.10" font-size="5.4" text-anchor="end" font-weight="normal" fill="#111" stroke="#111" stroke-width="0.07" >0</text>
<line x1="172.60" y1="291.97" x2="174.40" y2="291.97" stroke="#444444" stroke-width="0.8"/>
<text x="172.00" y="293.87" font-size="5.4" text-anchor="end" font-weight="normal" fill="#111" stroke="#111" stroke-width="0.07" >5000</text>
<line x1="172.60" y1="273.73" x2="174.40" y2="273.73" stroke="#444444" stroke-width="0.8"/>
<text x="172.00" y="275.63" font-size="5.4" text-anchor="end" font-weight="normal" fill="#111" stroke="#111" stroke-width="0.07" >10000</text>
<line x1="172.60" y1="255.50" x2="174.40" y2="255.50" stroke="#444444" stroke-width="0.8"/>
<text x="172.00" y="257.40" font-size="5.4" text-anchor="end" font-weight="normal" fill="#111" stroke="#111" stroke-width="0.07" >15000</text>
<line x1="174.40" y1="310.20" x2="174.40" y2="312.00" stroke="#444444" stroke-width="0.8"/>
<text x="174.40" y="317.00" font-size="5.6" text-anchor="middle" font-weight="normal" fill="#111" stroke="#111" stroke-width="0.07" >2020</text>
<line x1="204.35" y1="310.20" x2="204.35" y2="312.00" stroke="#444444" stroke-width="0.8"/>
<text x="204.35" y="317.00" font-size="5.6" text-anchor="middle" font-weight="normal" fill="#111" stroke="#111" stroke-width="0.07" >2050</text>
<line x1="234.30" y1="310.20" x2="234.30" y2="312.00" stroke="#444444" stroke-width="0.8"/>
<text x="234.30" y="317.00" font-size="5.6" text-anchor="middle" font-weight="normal" fill="#111" stroke="#111" stroke-width="0.07" >2080</text>
<text transform="translate(204.35,252.80) scale(1,1.14)" font-size="6.2" text-anchor="middle" fill="#111" stroke="#111" stroke-width="0.1">Telangana</text>
<rect x="248.40" y="255.50" width="59.90" height="54.70" fill="none" stroke="#444444" stroke-width="0.9"/>
<polygon points="272.48,302.20 274.22,289.97 275.97,281.22 277.72,282.97 279.47,289.97 281.22,298.71 282.97,303.95 282.97,310.05 279.47,308.32 275.97,307.45 272.48,305.70" fill="#7170b0" fill-opacity="0.22" stroke="none"/>
<polyline points="248.35,310.05 258.49,310.05 261.99,310.05 263.73,308.32 265.48,305.70 266.88,303.08 268.10,301.33 269.33,303.95 270.38,305.70 271.60,303.95 272.83,301.33 273.87,296.08 274.57,291.71 275.62,286.47 276.50,282.97 277.37,285.59 278.07,289.97 279.12,295.21" fill="none" stroke="#7170b0" stroke-width="1.15" stroke-linejoin="round" stroke-linecap="butt"/>
<polyline points="279.12,295.21 280.34,300.45 281.57,303.08 282.97,304.83 284.71,307.45 286.46,310.05 288.21,310.05" fill="none" stroke="#7170b0" stroke-width="1.0" stroke-linejoin="round" stroke-linecap="butt" stroke-opacity="0.3"/>
<polygon points="266.36,265.49 268.10,262.87 270.73,263.39 274.22,265.49 276.85,268.99 279.47,272.48 281.22,277.73 282.97,284.72 284.71,293.46 286.46,298.71 288.21,303.08 289.96,305.70 291.71,310.05 292.58,310.05 292.58,310.05 285.59,310.05 282.97,308.32 281.22,306.57 279.47,303.95 277.72,298.71 275.97,289.97 274.22,274.23 270.73,275.10 268.10,272.48 266.36,279.48" fill="#b86a4a" fill-opacity="0.26" stroke="none"/>
<polyline points="248.35,310.05 249.75,308.32 251.15,307.45 252.90,308.32 254.99,308.32 256.74,307.45 258.49,306.92 260.24,305.70 261.11,303.95 261.99,299.58 262.86,293.46 264.08,287.34 265.13,281.22 266.01,277.73 267.23,274.23 267.76,268.11 268.63,270.73 269.33,274.23 270.73,273.36 272.13,272.48 273.35,269.86 274.22,271.61 275.10,270.73 275.97,272.48 276.85,275.10 277.72,281.22 278.59,289.97 279.47,296.96 280.87,301.33 282.09,303.08 283.31,303.95 284.36,304.83 285.59,307.45 286.81,310.05 288.21,310.05 309.19,310.05" fill="none" stroke="#c0561a" stroke-width="1.15" stroke-linejoin="round" stroke-linecap="butt"/>
<line x1="248.40" y1="310.20" x2="248.40" y2="312.00" stroke="#444444" stroke-width="0.8"/>
<text x="248.40" y="317.00" font-size="5.6" text-anchor="middle" font-weight="normal" fill="#111" stroke="#111" stroke-width="0.07" >2020</text>
<line x1="278.35" y1="310.20" x2="278.35" y2="312.00" stroke="#444444" stroke-width="0.8"/>
<text x="278.35" y="317.00" font-size="5.6" text-anchor="middle" font-weight="normal" fill="#111" stroke="#111" stroke-width="0.07" >2050</text>
<line x1="308.30" y1="310.20" x2="308.30" y2="312.00" stroke="#444444" stroke-width="0.8"/>
<text x="308.30" y="317.00" font-size="5.6" text-anchor="middle" font-weight="normal" fill="#111" stroke="#111" stroke-width="0.07" >2080</text>
<text transform="translate(278.35,252.80) scale(1,1.14)" font-size="6.2" text-anchor="middle" fill="#111" stroke="#111" stroke-width="0.1">West Bengal</text>
<rect x="322.40" y="255.50" width="59.90" height="54.70" fill="none" stroke="#444444" stroke-width="0.9"/>
<polyline points="322.35,310.05 332.49,310.05 335.99,310.05 338.61,308.32 341.23,307.45 343.85,306.92 346.48,306.57 349.10,306.57 350.85,307.10" fill="none" stroke="#7170b0" stroke-width="1.15" stroke-linejoin="round" stroke-linecap="butt"/>
<polyline points="350.85,307.10 353.47,307.97 356.09,310.05 358.71,310.05" fill="none" stroke="#7170b0" stroke-width="1.0" stroke-linejoin="round" stroke-linecap="butt" stroke-opacity="0.3"/>
<polygon points="349.97,305.35 355.22,306.57 358.71,307.80 363.96,310.05 366.58,310.05 366.58,310.05 360.46,310.05 356.97,310.05 351.72,307.45 349.97,306.05" fill="#b86a4a" fill-opacity="0.26" stroke="none"/>
<polyline points="322.35,310.05 327.24,310.05 329.87,310.05 331.62,308.32 333.36,307.45 335.11,307.10 336.86,306.57 338.61,305.70 340.36,305.35 342.10,304.83 344.73,305.17 347.35,305.35 349.97,305.70 351.72,306.05 353.47,306.57 355.22,307.45 356.97,308.32 359.59,310.05 363.96,310.05 383.19,310.05" fill="none" stroke="#c0561a" stroke-width="1.15" stroke-linejoin="round" stroke-linecap="butt"/>
<line x1="322.40" y1="310.20" x2="322.40" y2="312.00" stroke="#444444" stroke-width="0.8"/>
<text x="322.40" y="317.00" font-size="5.6" text-anchor="middle" font-weight="normal" fill="#111" stroke="#111" stroke-width="0.07" >2020</text>
<line x1="352.35" y1="310.20" x2="352.35" y2="312.00" stroke="#444444" stroke-width="0.8"/>
<text x="352.35" y="317.00" font-size="5.6" text-anchor="middle" font-weight="normal" fill="#111" stroke="#111" stroke-width="0.07" >2050</text>
<line x1="382.30" y1="310.20" x2="382.30" y2="312.00" stroke="#444444" stroke-width="0.8"/>
<text x="382.30" y="317.00" font-size="5.6" text-anchor="middle" font-weight="normal" fill="#111" stroke="#111" stroke-width="0.07" >2080</text>
<text transform="translate(352.35,252.80) scale(1,1.14)" font-size="6.2" text-anchor="middle" fill="#111" stroke="#111" stroke-width="0.1">Andhra Pradesh</text>
<rect x="396.40" y="255.50" width="59.90" height="54.70" fill="none" stroke="#444444" stroke-width="0.9"/>
<polygon points="422.22,305.35 426.59,302.20 429.22,300.80 431.84,304.83 430.97,307.45 426.59,307.45 422.22,307.10" fill="#7170b0" fill-opacity="0.22" stroke="none"/>
<polyline points="396.35,310.05 409.99,310.05 412.61,310.05 414.36,310.05 416.10,308.85 417.85,308.32 419.60,307.45 421.35,306.05 423.10,304.83 424.85,303.60 426.59,302.55 428.34,301.33 429.22,300.45" fill="none" stroke="#7170b0" stroke-width="1.15" stroke-linejoin="round" stroke-linecap="butt"/>
<polyline points="429.22,300.45 430.97,303.08 432.71,306.57 434.46,310.05 436.21,310.05" fill="none" stroke="#7170b0" stroke-width="1.0" stroke-linejoin="round" stroke-linecap="butt" stroke-opacity="0.3"/>
<polygon points="423.97,296.08 427.47,296.61 430.97,297.83 432.71,300.45 434.46,303.95 437.08,306.57 439.71,308.32 442.33,310.05 444.08,310.05 444.08,310.05 436.21,310.05 433.59,310.05 430.97,308.32 428.34,306.57 425.72,303.95 423.97,296.96" fill="#b86a4a" fill-opacity="0.26" stroke="none"/>
<polyline points="396.35,310.05 401.24,310.05 404.74,310.05 408.24,310.05 409.99,308.32 411.38,306.57 412.08,302.20 413.13,299.58 414.36,296.08 415.58,293.81 416.63,293.11 417.85,294.34 419.60,294.86 421.35,295.56 423.10,296.08 424.85,296.61 426.59,296.96 427.82,297.83 428.87,299.58 430.09,302.20 431.84,304.83 433.59,306.05 435.34,306.57 437.08,307.45 438.31,310.05 439.71,310.05 457.19,310.05" fill="none" stroke="#c0561a" stroke-width="1.15" stroke-linejoin="round" stroke-linecap="butt"/>
<line x1="396.40" y1="310.20" x2="396.40" y2="312.00" stroke="#444444" stroke-width="0.8"/>
<text x="396.40" y="317.00" font-size="5.6" text-anchor="middle" font-weight="normal" fill="#111" stroke="#111" stroke-width="0.07" >2020</text>
<line x1="426.35" y1="310.20" x2="426.35" y2="312.00" stroke="#444444" stroke-width="0.8"/>
<text x="426.35" y="317.00" font-size="5.6" text-anchor="middle" font-weight="normal" fill="#111" stroke="#111" stroke-width="0.07" >2050</text>
<line x1="456.30" y1="310.20" x2="456.30" y2="312.00" stroke="#444444" stroke-width="0.8"/>
<text x="456.30" y="317.00" font-size="5.6" text-anchor="middle" font-weight="normal" fill="#111" stroke="#111" stroke-width="0.07" >2080</text>
<text transform="translate(426.35,252.80) scale(1,1.14)" font-size="6.2" text-anchor="middle" fill="#111" stroke="#111" stroke-width="0.1">Jharkhand</text>
<rect x="470.40" y="255.50" width="59.90" height="54.70" fill="none" stroke="#444444" stroke-width="0.9"/>
<polyline points="470.35,310.05 483.99,310.05 487.48,310.05 490.10,310.05 492.73,308.32 494.48,307.45 496.22,306.57 497.62,305.70 498.85,306.05" fill="none" stroke="#7170b0" stroke-width="1.15" stroke-linejoin="round" stroke-linecap="butt"/>
<polyline points="498.85,306.05 500.59,307.10 502.34,308.32 504.97,310.05 507.59,310.05" fill="none" stroke="#7170b0" stroke-width="1.0" stroke-linejoin="round" stroke-linecap="butt" stroke-opacity="0.3"/>
<polygon points="497.97,304.83 502.34,305.70 505.84,307.45 509.34,308.85 513.71,310.05 518.08,310.05 518.08,310.05 507.59,310.05 503.22,308.85 498.85,307.45 497.97,305.70" fill="#b86a4a" fill-opacity="0.26" stroke="none"/>
<polyline points="470.35,310.05 476.99,310.05 480.49,310.05 483.11,310.05 484.86,307.45 486.61,305.70 488.36,304.30 490.10,303.60 491.85,303.95 494.48,304.30 496.22,304.83 497.97,305.35 499.72,305.70 501.47,306.57 503.22,307.45 504.97,308.32 506.71,310.05 510.21,310.05 515.45,310.05 520.70,310.05 531.19,310.05" fill="none" stroke="#c0561a" stroke-width="1.15" stroke-linejoin="round" stroke-linecap="butt"/>
<line x1="470.40" y1="310.20" x2="470.40" y2="312.00" stroke="#444444" stroke-width="0.8"/>
<text x="470.40" y="317.00" font-size="5.6" text-anchor="middle" font-weight="normal" fill="#111" stroke="#111" stroke-width="0.07" >2020</text>
<line x1="500.35" y1="310.20" x2="500.35" y2="312.00" stroke="#444444" stroke-width="0.8"/>
<text x="500.35" y="317.00" font-size="5.6" text-anchor="middle" font-weight="normal" fill="#111" stroke="#111" stroke-width="0.07" >2050</text>
<line x1="530.30" y1="310.20" x2="530.30" y2="312.00" stroke="#444444" stroke-width="0.8"/>
<text x="530.30" y="317.00" font-size="5.6" text-anchor="middle" font-weight="normal" fill="#111" stroke="#111" stroke-width="0.07" >2080</text>
<text transform="translate(500.35,252.80) scale(1,1.14)" font-size="6.2" text-anchor="middle" fill="#111" stroke="#111" stroke-width="0.1">Rajasthan</text>
<rect x="544.40" y="255.50" width="59.90" height="54.70" fill="none" stroke="#444444" stroke-width="0.9"/>
<polygon points="565.85,302.20 570.22,297.48 574.59,298.71 578.97,303.08 579.84,307.45 577.22,307.45 571.97,306.57 565.85,305.70" fill="#7170b0" fill-opacity="0.22" stroke="none"/>
<polyline points="544.35,310.05 547.50,310.05 552.74,310.05 557.99,310.05 561.48,310.05 562.88,307.45 563.58,304.83 564.63,303.08 565.85,302.55 567.08,300.80 568.13,299.58 569.35,298.36 570.57,297.48 571.97,296.96" fill="none" stroke="#7170b0" stroke-width="1.15" stroke-linejoin="round" stroke-linecap="butt"/>
<polyline points="571.97,296.96 574.59,298.71 577.22,301.33 579.84,304.83 581.59,307.45 583.34,310.05 585.08,310.05" fill="none" stroke="#7170b0" stroke-width="1.0" stroke-linejoin="round" stroke-linecap="butt" stroke-opacity="0.3"/>
<polygon points="558.86,295.21 561.48,295.56 571.97,296.61 576.34,298.71 580.71,300.80 584.21,303.08 587.71,305.70 589.45,308.32 590.33,310.05 590.33,310.05 585.08,310.05 583.34,310.05 580.71,307.45 578.09,304.83 575.47,303.08 572.85,300.45 571.97,297.83 561.48,296.96 558.86,297.83" fill="#b86a4a" fill-opacity="0.26" stroke="none"/>
<polyline points="544.35,310.05 545.75,307.10 546.62,305.35 548.37,304.83 550.99,305.17 553.62,304.83 554.84,303.95 556.24,303.08 557.64,303.08 558.86,300.45 560.08,296.96 560.61,296.08 562.36,296.61 564.98,296.96 567.60,296.96 571.10,296.96 572.85,297.83 574.07,299.06 575.47,300.10 577.22,300.80 578.97,301.85 580.71,303.08 582.46,304.83 584.21,306.05 585.61,307.45 586.83,310.05 587.71,310.05 605.19,310.05" fill="none" stroke="#c0561a" stroke-width="1.15" stroke-linejoin="round" stroke-linecap="butt"/>
<line x1="544.40" y1="310.20" x2="544.40" y2="312.00" stroke="#444444" stroke-width="0.8"/>
<text x="544.40" y="317.00" font-size="5.6" text-anchor="middle" font-weight="normal" fill="#111" stroke="#111" stroke-width="0.07" >2020</text>
<line x1="574.35" y1="310.20" x2="574.35" y2="312.00" stroke="#444444" stroke-width="0.8"/>
<text x="574.35" y="317.00" font-size="5.6" text-anchor="middle" font-weight="normal" fill="#111" stroke="#111" stroke-width="0.07" >2050</text>
<line x1="604.30" y1="310.20" x2="604.30" y2="312.00" stroke="#444444" stroke-width="0.8"/>
<text x="604.30" y="317.00" font-size="5.6" text-anchor="middle" font-weight="normal" fill="#111" stroke="#111" stroke-width="0.07" >2080</text>
<text transform="translate(574.35,252.80) scale(1,1.14)" font-size="6.2" text-anchor="middle" fill="#111" stroke="#111" stroke-width="0.1">Bihar</text>
<rect x="618.40" y="255.50" width="59.90" height="54.70" fill="none" stroke="#444444" stroke-width="0.9"/>
<polyline points="618.35,310.05 626.74,310.05 629.36,310.05 631.11,308.32 632.86,307.45 634.61,306.75 636.36,306.40" fill="none" stroke="#7170b0" stroke-width="1.15" stroke-linejoin="round" stroke-linecap="butt"/>
<polyline points="636.36,306.40 638.98,306.40 642.48,306.75 645.97,307.45 649.47,308.32 652.97,310.05 655.59,310.05" fill="none" stroke="#7170b0" stroke-width="1.0" stroke-linejoin="round" stroke-linecap="butt" stroke-opacity="0.3"/>
<polygon points="644.22,305.70 649.47,306.57 654.71,307.80 659.96,308.85 665.20,310.05 670.45,310.05 670.45,310.05 659.96,310.05 654.71,308.85 649.47,307.45 644.22,306.75" fill="#b86a4a" fill-opacity="0.26" stroke="none"/>
<polyline points="618.35,310.05 621.50,308.85 624.12,308.32 626.74,308.32 628.14,307.45 629.36,306.22 631.11,305.70 633.73,305.35 636.36,305.70 638.98,306.05 641.60,306.22 644.22,306.22 646.85,306.57 649.47,306.92 652.09,307.45 653.84,308.32 656.46,308.85 659.96,310.05 663.45,310.05 666.95,310.05 669.57,310.05 679.19,310.05" fill="none" stroke="#c0561a" stroke-width="1.15" stroke-linejoin="round" stroke-linecap="butt"/>
<line x1="618.40" y1="310.20" x2="618.40" y2="312.00" stroke="#444444" stroke-width="0.8"/>
<text x="618.40" y="317.00" font-size="5.6" text-anchor="middle" font-weight="normal" fill="#111" stroke="#111" stroke-width="0.07" >2020</text>
<line x1="648.35" y1="310.20" x2="648.35" y2="312.00" stroke="#444444" stroke-width="0.8"/>
<text x="648.35" y="317.00" font-size="5.6" text-anchor="middle" font-weight="normal" fill="#111" stroke="#111" stroke-width="0.07" >2050</text>
<line x1="678.30" y1="310.20" x2="678.30" y2="312.00" stroke="#444444" stroke-width="0.8"/>
<text x="678.30" y="317.00" font-size="5.6" text-anchor="middle" font-weight="normal" fill="#111" stroke="#111" stroke-width="0.07" >2080</text>
<text transform="translate(648.35,252.80) scale(1,1.14)" font-size="6.2" text-anchor="middle" fill="#111" stroke="#111" stroke-width="0.1">Karnataka</text>
<text x="220.00" y="20.50" font-size="7.4" text-anchor="middle" font-weight="normal" fill="#111" stroke="#111" stroke-width="0.15" >Mt CO<tspan font-size="4.2" dy="0.4">2</tspan></text>
<line x1="212.10" y1="25.80" x2="218.40" y2="25.80" stroke="#2d3a86" stroke-width="1.5"/>
<text x="218.50" y="27.80" font-size="5.5" text-anchor="start" font-weight="normal" fill="#111" stroke="#111" stroke-width="0.07" >1.5°C</text>
<line x1="212.10" y1="31.50" x2="218.40" y2="31.50" stroke="#5ec0be" stroke-width="1.5"/>
<text x="218.70" y="33.50" font-size="5.5" text-anchor="start" font-weight="normal" fill="#111" stroke="#111" stroke-width="0.07" >2°C</text>
<text x="220.00" y="97.60" font-size="7.4" text-anchor="middle" font-weight="normal" fill="#111" stroke="#111" stroke-width="0.15" >Mt CO<tspan font-size="4.2" dy="0.4">2</tspan></text>
<text x="221.00" y="187.40" font-size="7.4" text-anchor="middle" font-weight="normal" fill="#111" stroke="#111" stroke-width="0.15" >DALY</text>
<line x1="212.10" y1="191.70" x2="218.40" y2="191.70" stroke="#c0561a" stroke-width="1.5"/>
<text x="218.50" y="193.70" font-size="5.5" text-anchor="start" font-weight="normal" fill="#111" stroke="#111" stroke-width="0.07" >1.5°C</text>
<line x1="212.10" y1="197.60" x2="218.40" y2="197.60" stroke="#7170b0" stroke-width="1.5"/>
<text x="218.70" y="199.60" font-size="5.5" text-anchor="start" font-weight="normal" fill="#111" stroke="#111" stroke-width="0.07" >2°C</text>
<text x="220.40" y="264.10" font-size="7.4" text-anchor="middle" font-weight="normal" fill="#111" stroke="#111" stroke-width="0.15" >DALY</text>
</svg></body></html>
